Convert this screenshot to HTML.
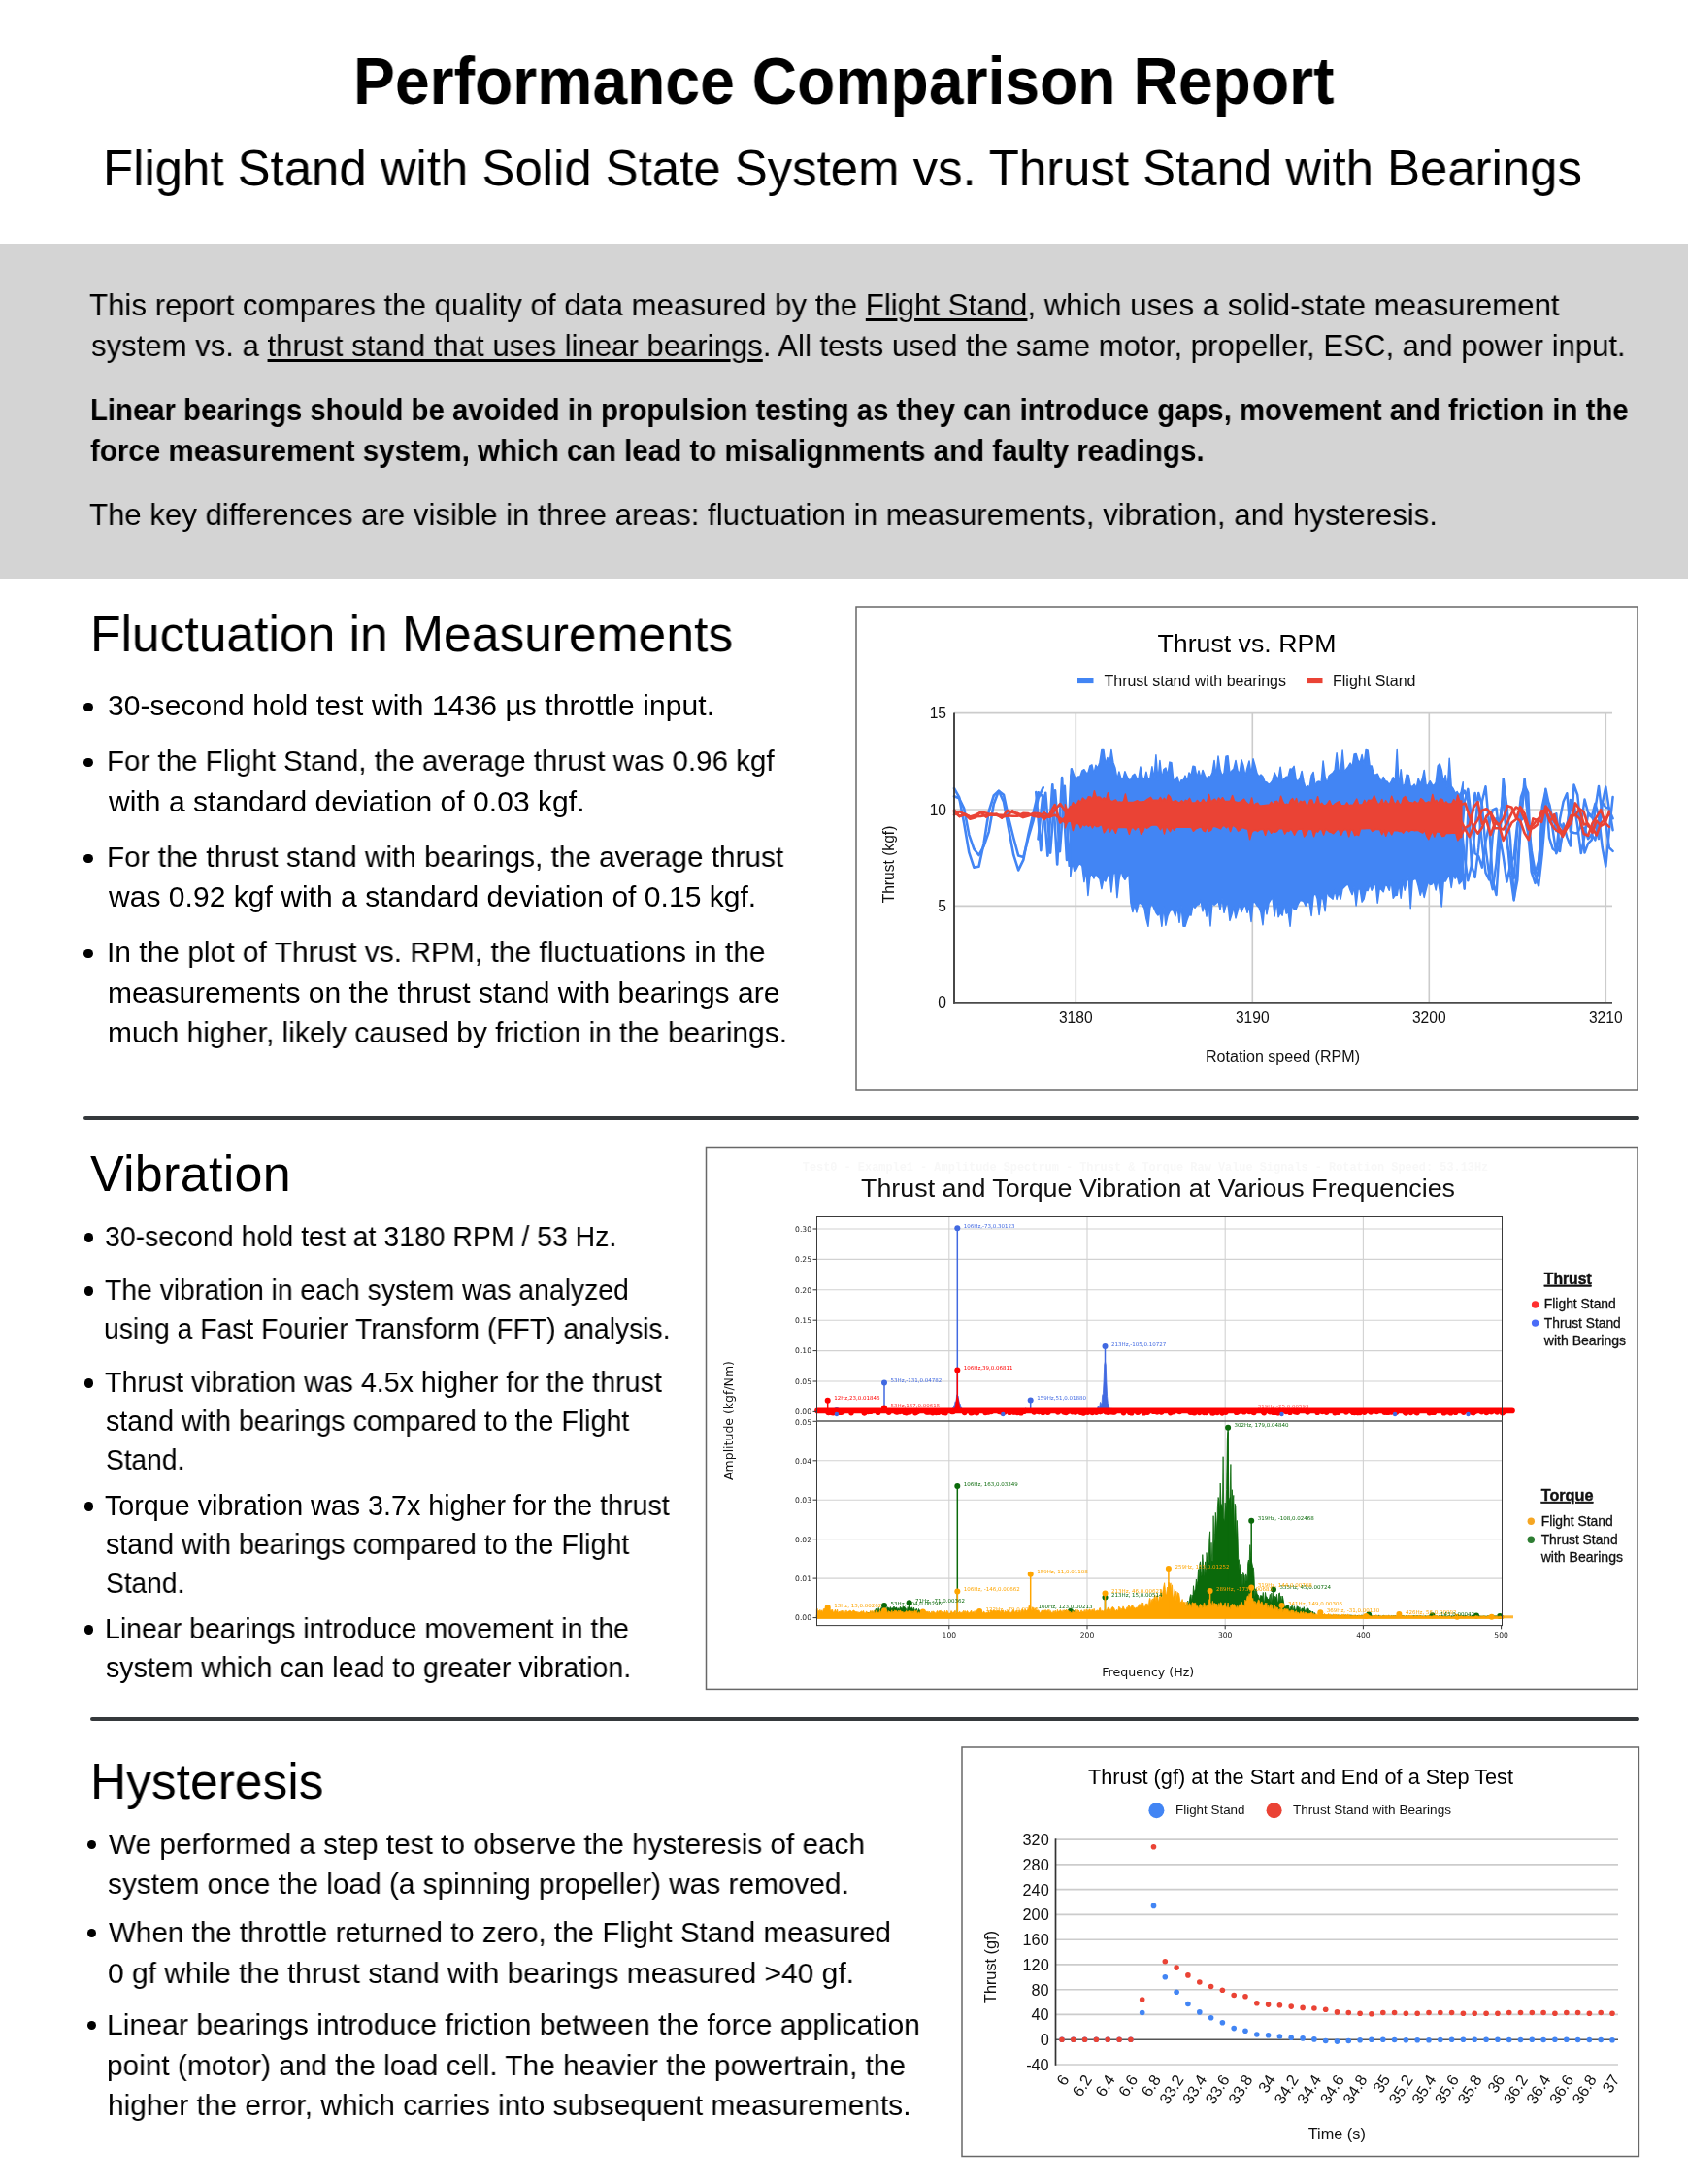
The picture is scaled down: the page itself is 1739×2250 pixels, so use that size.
<!DOCTYPE html>
<html lang="en"><head><meta charset="utf-8"><title>Performance Comparison Report</title>
<style>
html,body{margin:0;padding:0;background:#fff}
body{width:1739px;height:2250px;position:relative;overflow:hidden;font-family:'Liberation Sans', Arial, sans-serif;color:#000}
h1,h2,p,ul,li{margin:0;padding:0;font-weight:400;font-size:inherit;list-style:none}
.ln{position:absolute;white-space:nowrap;line-height:1;display:block;transform-origin:0 50%;will-change:transform}
.band{position:absolute;left:0;top:251px;width:1739px;height:346px;background:#d4d4d4}
.rule{position:absolute;height:4.2px;border-radius:2.1px;background:#35393c}
.dot{position:absolute;width:8.4px;height:8.4px;border-radius:50%;background:#000}
.chart{position:absolute;overflow:visible;will-change:transform}
u{text-decoration-thickness:2.6px;text-underline-offset:3px}
</style></head>
<body>
<header>
<h1><span class="ln" style="left:364.3px;top:50px;font-size:68.5px;font-weight:700;transform:scaleX(0.9380);">Performance Comparison Report</span></h1>
<p><span class="ln" style="left:106.1px;top:148px;font-size:51.5px;transform:scaleX(0.9883);">Flight Stand with Solid State System vs. Thrust Stand with Bearings</span></p>
</header>
<section class="intro"><div class="band"></div>
<p><span class="ln" style="left:92.4px;top:299px;font-size:31.8px;transform:scaleX(0.9816);">This report compares the quality of data measured by the <u>Flight Stand</u>, which uses a solid-state measurement</span>
<span class="ln" style="left:93.6px;top:341px;font-size:31.8px;transform:scaleX(0.9785);">system vs. a <u>thrust stand that uses linear bearings</u>. All tests used the same motor, propeller, ESC, and power input.</span></p>
<p><span class="ln" style="left:92.6px;top:407px;font-size:31.6px;font-weight:700;transform:scaleX(0.9277);">Linear bearings should be avoided in propulsion testing as they can introduce gaps, movement and friction in the</span>
<span class="ln" style="left:93.4px;top:449px;font-size:31.6px;font-weight:700;transform:scaleX(0.9351);">force measurement system, which can lead to misalignments and faulty readings.</span></p>
<p><span class="ln" style="left:92.4px;top:515px;font-size:31.8px;transform:scaleX(0.9803);">The key differences are visible in three areas: fluctuation in measurements, vibration, and hysteresis.</span></p>
</section>
<section>
<h2><span class="ln" style="left:93.0px;top:627px;font-size:52px;transform:scaleX(0.9917);">Fluctuation in Measurements</span></h2>
<ul>
<li><i class="dot" style="left:86.4px;top:723.6px;width:9.2px;height:9.2px"></i>
<span class="ln" style="left:110.6px;top:712px;font-size:30.0px;letter-spacing:0.085px;">30-second hold test with 1436 µs throttle input.</span>
</li>
<li><i class="dot" style="left:86.4px;top:780.6px;width:9.2px;height:9.2px"></i>
<span class="ln" style="left:110.2px;top:769px;font-size:30.0px;transform:scaleX(0.9839);">For the Flight Stand, the average thrust was 0.96 kgf</span>
<span class="ln" style="left:111.8px;top:811px;font-size:30.0px;letter-spacing:0.051px;">with a standard deviation of 0.03 kgf.</span>
</li>
<li><i class="dot" style="left:86.4px;top:879.6px;width:9.2px;height:9.2px"></i>
<span class="ln" style="left:110.2px;top:868px;font-size:30.0px;transform:scaleX(0.9905);">For the thrust stand with bearings, the average thrust</span>
<span class="ln" style="left:111.8px;top:909px;font-size:30.0px;letter-spacing:0.036px;">was 0.92 kgf with a standard deviation of 0.15 kgf.</span>
</li>
<li><i class="dot" style="left:86.4px;top:977.8px;width:9.2px;height:9.2px"></i>
<span class="ln" style="left:109.6px;top:966px;font-size:30.0px;transform:scaleX(0.9982);">In the plot of Thrust vs. RPM, the fluctuations in the</span>
<span class="ln" style="left:110.6px;top:1008px;font-size:30.0px;letter-spacing:0.006px;">measurements on the thrust stand with bearings are</span>
<span class="ln" style="left:110.6px;top:1049px;font-size:30.0px;transform:scaleX(0.9971);">much higher, likely caused by friction in the bearings.</span>
</li>
</ul>
<figure style="margin:0"><svg class="chart" style="left:876px;top:619px" width="819" height="512" viewBox="876 619 819 512" font-family="'Liberation Sans',Arial,sans-serif">
<rect x="882" y="625" width="805" height="498" fill="#fff" stroke="#686868" stroke-width="1.5"/>
<line x1="983.0" x2="1661.0" y1="933.4" y2="933.4" stroke="#ccc" stroke-width="1.6"/>
<line x1="983.0" x2="1661.0" y1="834.0" y2="834.0" stroke="#ccc" stroke-width="1.6"/>
<line x1="983.0" x2="1661.0" y1="734.6" y2="734.6" stroke="#ccc" stroke-width="1.6"/>
<line x1="1108.3" x2="1108.3" y1="734.6" y2="1032.8" stroke="#ccc" stroke-width="1.6"/>
<line x1="1290.3" x2="1290.3" y1="734.6" y2="1032.8" stroke="#ccc" stroke-width="1.6"/>
<line x1="1472.3" x2="1472.3" y1="734.6" y2="1032.8" stroke="#ccc" stroke-width="1.6"/>
<line x1="1654.3" x2="1654.3" y1="734.6" y2="1032.8" stroke="#ccc" stroke-width="1.6"/>
<path d="M983.0 812.1 L988.1 821.2 L993.2 848.3 L998.3 878.2 L1003.4 893.6 L1008.5 892.8 L1013.6 868.7 L1018.7 836.0 L1023.8 819.5 L1028.9 814.8 L1034.0 825.9 L1039.1 853.6 L1044.2 880.7 L1049.2 896.4 L1054.3 885.9 L1059.4 859.7 L1064.5 837.8 L1069.6 816.2 L1074.7 820.8" fill="none" stroke="#4285f4" stroke-width="2.6" stroke-linejoin="round" stroke-linecap="round"/>
<path d="M983.0 820.3 L988.1 822.2 L993.2 832.9 L998.3 859.8 L1003.4 874.6 L1008.5 881.0 L1013.6 871.6 L1018.7 857.1 L1023.8 828.3 L1028.9 814.8 L1034.0 818.7 L1039.1 842.6 L1044.2 863.0 L1049.2 881.6 L1054.3 883.0 L1059.4 862.9 L1064.5 845.6 L1069.6 822.4 L1074.7 811.3" fill="none" stroke="#4285f4" stroke-width="2.6" stroke-linejoin="round" stroke-linecap="round"/>
<path d="M1067.3 816.1 L1072.3 876.1 L1077.2 816.7 L1082.1 878.6 L1087.0 814.2 L1091.9 877.2 L1096.8 809.8 L1101.7 891.8 L1106.7 801.2" fill="none" stroke="#4285f4" stroke-width="2.6" stroke-linejoin="round" stroke-linecap="round"/>
<path d="M1069.5 864.4 L1074.4 819.1 L1079.4 881.7 L1084.3 808.2 L1089.2 890.5 L1094.1 801.1 L1099.0 885.9 L1103.9 792.2" fill="none" stroke="#4285f4" stroke-width="2.6" stroke-linejoin="round" stroke-linecap="round"/>
<path d="M1102.8 799.6 L1104.8 793.6 L1106.8 799.5 L1108.8 802.1 L1110.8 799.9 L1112.9 799.7 L1114.9 793.8 L1116.9 792.7 L1118.9 796.1 L1120.9 796.3 L1122.9 788.9 L1124.9 787.9 L1126.9 797.1 L1128.9 788.3 L1130.9 791.3 L1132.9 785.4 L1134.9 772.4 L1136.9 772.4 L1138.9 787.2 L1140.9 780.4 L1142.9 787.4 L1144.9 772.4 L1146.9 785.4 L1148.9 790.9 L1150.9 802.6 L1152.9 795.0 L1154.9 801.9 L1156.9 802.9 L1158.9 794.8 L1160.9 799.7 L1162.9 803.6 L1164.9 803.0 L1166.9 798.9 L1168.9 797.4 L1170.9 801.6 L1172.9 802.9 L1174.9 789.9 L1176.9 800.8 L1178.9 803.7 L1180.9 795.3 L1182.9 803.6 L1184.9 801.4 L1186.9 789.8 L1188.9 802.6 L1190.9 777.8 L1192.9 804.1 L1194.9 783.5 L1196.9 802.2 L1198.9 792.5 L1200.9 791.0 L1202.9 798.9 L1204.9 785.1 L1206.9 785.7 L1208.9 804.6 L1210.9 802.7 L1213.0 800.1 L1215.0 808.3 L1217.0 803.7 L1219.0 804.2 L1221.0 799.1 L1223.0 805.4 L1225.0 796.0 L1227.0 799.1 L1229.0 789.2 L1231.0 789.8 L1233.0 801.0 L1235.0 794.0 L1237.0 801.7 L1239.0 793.4 L1241.0 798.2 L1243.0 802.5 L1245.0 799.8 L1247.0 800.5 L1249.0 796.0 L1251.0 783.4 L1253.0 799.5 L1255.0 779.1 L1257.0 792.6 L1259.0 799.1 L1261.0 796.3 L1263.0 779.3 L1265.0 778.7 L1267.0 797.0 L1269.0 794.0 L1271.0 792.0 L1273.0 783.4 L1275.0 793.8 L1277.0 797.1 L1279.0 782.8 L1281.0 788.8 L1283.0 799.7 L1285.0 790.9 L1287.0 783.9 L1289.0 797.9 L1291.0 781.8 L1293.0 788.6 L1295.0 796.6 L1297.0 800.1 L1299.0 798.1 L1301.0 800.1 L1303.0 805.6 L1305.0 805.9 L1307.0 808.3 L1309.0 806.9 L1311.0 804.1 L1313.1 796.0 L1315.1 800.2 L1317.1 802.6 L1319.1 790.2 L1321.1 804.6 L1323.1 802.1 L1325.1 800.2 L1327.1 800.2 L1329.1 791.9 L1331.1 792.5 L1333.1 789.3 L1335.1 802.9 L1337.1 805.3 L1339.1 801.6 L1341.1 794.5 L1343.1 805.5 L1345.1 811.9 L1347.1 809.6 L1349.1 811.0 L1351.1 798.8 L1353.1 795.5 L1355.1 809.7 L1357.1 805.4 L1359.1 805.1 L1361.1 806.3 L1363.1 783.9 L1365.1 800.3 L1367.1 807.3 L1369.1 799.3 L1371.1 797.5 L1373.1 796.0 L1375.1 793.3 L1377.1 775.8 L1379.1 793.1 L1381.1 794.4 L1383.1 773.1 L1385.1 795.2 L1387.1 792.3 L1389.1 789.7 L1391.1 786.1 L1393.1 790.1 L1395.1 776.9 L1397.1 776.5 L1399.1 783.3 L1401.1 785.5 L1403.1 777.6 L1405.1 787.8 L1407.1 772.4 L1409.1 772.9 L1411.1 788.9 L1413.2 789.0 L1415.2 797.7 L1417.2 798.2 L1419.2 797.2 L1421.2 801.6 L1423.2 805.6 L1425.2 800.5 L1427.2 804.6 L1429.2 805.3 L1431.2 808.3 L1433.2 805.5 L1435.2 800.7 L1437.2 805.9 L1439.2 772.4 L1441.2 811.0 L1443.2 792.7 L1445.2 810.4 L1447.2 807.9 L1449.2 797.9 L1451.2 798.6 L1453.2 809.8 L1455.2 810.4 L1457.2 808.0 L1459.2 811.8 L1461.2 801.9 L1463.2 807.7 L1465.2 802.8 L1467.2 793.4 L1469.2 809.7 L1471.2 808.6 L1473.2 804.7 L1475.2 808.0 L1477.2 809.5 L1479.2 806.2 L1481.2 789.0 L1483.2 786.7 L1485.2 793.1 L1487.2 805.9 L1489.2 798.6 L1491.2 812.6 L1493.2 781.3 L1495.2 810.0 L1497.2 812.7 L1499.2 817.0 L1501.2 815.5 L1503.2 819.1 L1505.2 816.0 L1507.2 805.8 L1507.2 905.6 L1505.2 908.5 L1503.2 910.7 L1501.2 902.2 L1499.2 905.1 L1497.2 901.3 L1495.2 914.5 L1493.2 901.7 L1491.2 904.2 L1489.2 908.1 L1487.2 908.1 L1485.2 933.9 L1483.2 917.7 L1481.2 905.7 L1479.2 916.9 L1477.2 908.3 L1475.2 910.9 L1473.2 911.4 L1471.2 908.8 L1469.2 916.3 L1467.2 924.4 L1465.2 915.5 L1463.2 922.2 L1461.2 913.0 L1459.2 905.9 L1457.2 905.4 L1455.2 907.1 L1453.2 935.8 L1451.2 903.8 L1449.2 908.1 L1447.2 917.2 L1445.2 907.2 L1443.2 925.2 L1441.2 910.2 L1439.2 922.3 L1437.2 922.4 L1435.2 925.2 L1433.2 907.3 L1431.2 917.3 L1429.2 912.7 L1427.2 911.5 L1425.2 918.7 L1423.2 916.4 L1421.2 915.5 L1419.2 930.2 L1417.2 910.1 L1415.2 912.6 L1413.2 917.2 L1411.1 911.1 L1409.1 917.6 L1407.1 917.0 L1405.1 926.0 L1403.1 929.1 L1401.1 915.8 L1399.1 916.3 L1397.1 932.9 L1395.1 913.6 L1393.1 921.6 L1391.1 917.2 L1389.1 911.2 L1387.1 911.8 L1385.1 913.8 L1383.1 915.7 L1381.1 926.0 L1379.1 918.9 L1377.1 926.4 L1375.1 916.6 L1373.1 926.2 L1371.1 924.5 L1369.1 923.1 L1367.1 917.7 L1365.1 938.7 L1363.1 926.6 L1361.1 924.4 L1359.1 942.5 L1357.1 925.7 L1355.1 919.6 L1353.1 923.2 L1351.1 943.4 L1349.1 930.1 L1347.1 929.0 L1345.1 933.3 L1343.1 928.8 L1341.1 927.5 L1339.1 927.9 L1337.1 931.7 L1335.1 937.1 L1333.1 936.6 L1331.1 932.3 L1329.1 954.3 L1327.1 939.4 L1325.1 941.1 L1323.1 930.8 L1321.1 943.2 L1319.1 940.2 L1317.1 944.8 L1315.1 928.5 L1313.1 944.0 L1311.0 924.6 L1309.0 927.0 L1307.0 930.5 L1305.0 941.8 L1303.0 930.0 L1301.0 952.8 L1299.0 940.3 L1297.0 934.7 L1295.0 933.0 L1293.0 929.3 L1291.0 929.8 L1289.0 949.5 L1287.0 933.3 L1285.0 940.2 L1283.0 932.3 L1281.0 934.4 L1279.0 939.6 L1277.0 931.3 L1275.0 938.7 L1273.0 945.9 L1271.0 934.5 L1269.0 942.0 L1267.0 948.4 L1265.0 931.1 L1263.0 932.4 L1261.0 940.2 L1259.0 925.3 L1257.0 937.1 L1255.0 928.1 L1253.0 930.6 L1251.0 932.3 L1249.0 929.5 L1247.0 953.9 L1245.0 928.9 L1243.0 944.1 L1241.0 931.7 L1239.0 938.8 L1237.0 927.3 L1235.0 931.8 L1233.0 932.3 L1231.0 935.2 L1229.0 932.3 L1227.0 943.1 L1225.0 942.6 L1223.0 947.7 L1221.0 954.3 L1219.0 954.3 L1217.0 932.7 L1215.0 950.3 L1213.0 934.2 L1210.9 943.8 L1208.9 938.2 L1206.9 937.3 L1204.9 939.3 L1202.9 943.8 L1200.9 953.2 L1198.9 933.9 L1196.9 954.3 L1194.9 940.5 L1192.9 943.0 L1190.9 940.2 L1188.9 936.0 L1186.9 930.8 L1184.9 934.7 L1182.9 954.3 L1180.9 946.6 L1178.9 935.4 L1176.9 932.4 L1174.9 930.2 L1172.9 931.1 L1170.9 939.9 L1168.9 932.1 L1166.9 939.5 L1164.9 930.2 L1162.9 899.9 L1160.9 902.9 L1158.9 906.3 L1156.9 903.4 L1154.9 896.3 L1152.9 906.6 L1150.9 924.6 L1148.9 898.1 L1146.9 900.6 L1144.9 918.9 L1142.9 898.3 L1140.9 902.3 L1138.9 908.0 L1136.9 905.7 L1134.9 915.6 L1132.9 905.4 L1130.9 903.4 L1128.9 899.9 L1126.9 904.9 L1124.9 900.1 L1122.9 902.8 L1120.9 922.4 L1118.9 895.8 L1116.9 908.6 L1114.9 892.3 L1112.9 889.7 L1110.8 891.5 L1108.8 895.7 L1106.8 897.2 L1104.8 888.2 L1102.8 903.3 L1102.8 799.6" fill="#4285f4" stroke="#4285f4" stroke-width="1.5" stroke-linejoin="round" stroke-linecap="round"/>
<path d="M1505.1 821.5 L1508.7 814.6 L1512.3 825.1 L1516.0 891.2 L1519.6 903.9 L1523.3 873.2 L1526.9 825.5 L1530.5 810.3 L1534.2 851.2 L1537.8 906.8 L1541.5 922.0 L1545.1 868.1 L1548.7 802.2 L1552.4 831.5 L1556.0 865.2 L1559.7 925.7 L1563.3 906.7 L1566.9 843.7 L1570.6 808.9 L1574.2 816.8 L1577.9 898.9 L1581.5 909.9 L1585.1 896.7 L1588.8 831.2 L1592.4 814.6 L1596.1 863.2 L1599.7 874.6 L1603.3 877.2 L1607.0 844.1 L1610.6 825.7 L1614.3 817.2 L1617.9 856.6 L1621.5 858.0 L1625.2 858.4 L1628.8 849.8 L1632.5 823.6 L1636.1 837.2 L1639.7 840.7 L1643.4 848.9 L1647.0 864.1 L1650.7 827.7 L1654.3 810.6 L1657.9 834.3 L1661.6 843.3" fill="none" stroke="#4285f4" stroke-width="2.5" stroke-linejoin="round" stroke-linecap="round"/>
<path d="M1505.1 847.0 L1508.7 881.4 L1512.3 907.3 L1516.0 891.0 L1519.6 853.3 L1523.3 817.0 L1526.9 830.0 L1530.5 873.6 L1534.2 901.2 L1537.8 916.2 L1541.5 889.1 L1545.1 844.8 L1548.7 821.3 L1552.4 861.2 L1556.0 901.2 L1559.7 927.4 L1563.3 891.1 L1566.9 844.3 L1570.6 802.2 L1574.2 842.8 L1577.9 876.9 L1581.5 897.7 L1585.1 900.1 L1588.8 863.9 L1592.4 812.7 L1596.1 830.2 L1599.7 855.0 L1603.3 879.2 L1607.0 870.9 L1610.6 857.2 L1614.3 850.0 L1617.9 833.3 L1621.5 827.8 L1625.2 850.8 L1628.8 879.1 L1632.5 860.9 L1636.1 838.5 L1639.7 841.9 L1643.4 827.8 L1647.0 841.1 L1650.7 873.1 L1654.3 892.5 L1657.9 855.7 L1661.6 821.0" fill="none" stroke="#4285f4" stroke-width="2.5" stroke-linejoin="round" stroke-linecap="round"/>
<path d="M1505.1 885.1 L1508.7 915.7 L1512.3 838.6 L1516.0 845.9 L1519.6 816.9 L1523.3 833.7 L1526.9 868.9 L1530.5 898.9 L1534.2 906.5 L1537.8 860.1 L1541.5 843.0 L1545.1 851.2 L1548.7 816.3 L1552.4 870.1 L1556.0 881.8 L1559.7 904.9 L1563.3 853.4 L1566.9 821.2 L1570.6 810.5 L1574.2 843.2 L1577.9 887.5 L1581.5 901.1 L1585.1 912.3 L1588.8 879.8 L1592.4 837.2 L1596.1 840.9 L1599.7 840.0 L1603.3 856.0 L1607.0 848.5 L1610.6 854.0 L1614.3 853.4 L1617.9 823.9 L1621.5 836.1 L1625.2 839.1 L1628.8 843.5 L1632.5 878.5 L1636.1 868.9 L1639.7 865.4 L1643.4 833.5 L1647.0 810.0 L1650.7 840.5 L1654.3 847.9 L1657.9 873.4 L1661.6 876.8" fill="none" stroke="#4285f4" stroke-width="2.5" stroke-linejoin="round" stroke-linecap="round"/>
<path d="M1505.1 871.3 L1508.7 825.8 L1512.3 812.9 L1516.0 844.9 L1519.6 879.1 L1523.3 882.1 L1526.9 893.6 L1530.5 866.8 L1534.2 849.5 L1537.8 834.4 L1541.5 832.7 L1545.1 861.8 L1548.7 882.3 L1552.4 908.5 L1556.0 891.5 L1559.7 882.3 L1563.3 847.9 L1566.9 845.2 L1570.6 841.6 L1574.2 858.4 L1577.9 897.9 L1581.5 900.1 L1585.1 887.2 L1588.8 848.8 L1592.4 823.4 L1596.1 828.3 L1599.7 845.1 L1603.3 838.2 L1607.0 877.1 L1610.6 848.6 L1614.3 862.4 L1617.9 871.5 L1621.5 808.5 L1625.2 818.7 L1628.8 853.0 L1632.5 852.8 L1636.1 864.2 L1639.7 859.6 L1643.4 865.4 L1647.0 845.2 L1650.7 826.8 L1654.3 831.8 L1657.9 832.5 L1661.6 855.2" fill="none" stroke="#4285f4" stroke-width="2.5" stroke-linejoin="round" stroke-linecap="round"/>
<path d="M983.0 834.4 L988.5 841.1 L993.9 839.0 L999.4 843.8 L1004.8 842.3 L1010.3 836.7 L1015.8 841.6 L1021.2 838.4 L1026.7 839.7 L1032.1 841.9 L1037.6 840.3 L1043.1 840.7 L1048.5 840.6 L1054.0 837.9 L1059.4 838.1 L1064.9 840.8 L1070.4 841.6 L1075.8 837.2 L1081.3 841.7 L1086.7 834.5 L1092.2 828.1 L1097.7 835.9 L1103.1 835.7" fill="none" stroke="#ea4335" stroke-width="2.6" stroke-linejoin="round" stroke-linecap="round"/>
<path d="M983.0 836.8 L988.5 841.0 L993.9 838.7 L999.4 841.5 L1004.8 841.1 L1010.3 840.9 L1015.8 839.9 L1021.2 839.2 L1026.7 838.6 L1032.1 842.7 L1037.6 835.1 L1043.1 837.0 L1048.5 837.9 L1054.0 840.4 L1059.4 839.8 L1064.9 838.3 L1070.4 838.6 L1075.8 844.0 L1081.3 838.6 L1086.7 829.2 L1092.2 847.5 L1097.7 841.9 L1103.1 831.2" fill="none" stroke="#ea4335" stroke-width="2.6" stroke-linejoin="round" stroke-linecap="round"/>
<path d="M983.0 839.3 L988.5 836.1 L993.9 838.8 L999.4 841.5 L1004.8 839.7 L1010.3 836.8 L1015.8 837.5 L1021.2 839.6 L1026.7 839.5 L1032.1 839.8 L1037.6 840.9 L1043.1 835.2 L1048.5 839.6 L1054.0 842.1 L1059.4 840.6 L1064.9 837.9 L1070.4 838.1 L1075.8 841.0 L1081.3 841.6 L1086.7 839.6 L1092.2 843.0 L1097.7 847.4 L1103.1 834.4" fill="none" stroke="#ea4335" stroke-width="2.6" stroke-linejoin="round" stroke-linecap="round"/>
<path d="M1097.4 828.7 L1099.4 834.2 L1101.4 832.9 L1103.4 831.7 L1105.4 826.7 L1107.4 829.2 L1109.4 828.4 L1111.4 824.5 L1113.4 826.4 L1115.4 822.1 L1117.4 824.0 L1119.4 824.7 L1121.4 820.7 L1123.4 821.0 L1125.4 823.7 L1127.4 814.7 L1129.4 821.5 L1131.4 821.1 L1133.4 821.3 L1135.4 823.9 L1137.4 821.7 L1139.4 823.9 L1141.4 816.8 L1143.4 824.5 L1145.4 825.7 L1147.4 825.0 L1149.4 824.0 L1151.4 826.5 L1153.4 826.0 L1155.4 826.5 L1157.4 825.6 L1159.4 818.0 L1161.4 826.5 L1163.4 826.5 L1165.4 826.5 L1167.5 826.5 L1169.5 825.6 L1171.5 824.7 L1173.5 826.1 L1175.5 825.9 L1177.5 825.7 L1179.5 825.4 L1181.5 823.7 L1183.5 822.7 L1185.5 821.4 L1187.5 824.5 L1189.5 824.3 L1191.5 824.3 L1193.5 824.6 L1195.5 821.5 L1197.5 825.1 L1199.5 822.3 L1201.5 825.7 L1203.5 819.0 L1205.5 821.1 L1207.5 826.5 L1209.5 825.4 L1211.5 824.8 L1213.5 826.4 L1215.5 826.9 L1217.5 824.9 L1219.5 826.9 L1221.5 824.3 L1223.5 825.3 L1225.5 822.3 L1227.5 826.9 L1229.5 826.9 L1231.5 826.9 L1233.5 824.5 L1235.5 826.8 L1237.5 826.7 L1239.5 823.5 L1241.5 826.6 L1243.5 826.6 L1245.5 818.4 L1247.5 826.4 L1249.5 824.4 L1251.5 823.2 L1253.5 826.2 L1255.5 822.0 L1257.5 824.6 L1259.5 821.7 L1261.5 825.2 L1263.5 825.6 L1265.5 825.5 L1267.6 825.0 L1269.6 819.6 L1271.6 825.6 L1273.6 826.2 L1275.6 826.7 L1277.6 826.1 L1279.6 824.8 L1281.6 823.2 L1283.6 826.4 L1285.6 828.1 L1287.6 829.0 L1289.6 821.9 L1291.6 830.3 L1293.6 827.9 L1295.6 827.3 L1297.6 830.1 L1299.6 829.9 L1301.6 829.7 L1303.6 829.5 L1305.6 829.3 L1307.6 829.1 L1309.6 826.2 L1311.6 828.9 L1313.6 825.7 L1315.6 825.3 L1317.6 829.0 L1319.6 820.2 L1321.6 825.9 L1323.6 829.2 L1325.6 828.2 L1327.6 829.3 L1329.6 824.6 L1331.6 822.6 L1333.6 826.7 L1335.6 822.6 L1337.6 829.5 L1339.6 825.2 L1341.6 826.3 L1343.6 825.1 L1345.6 829.7 L1347.6 829.7 L1349.6 824.3 L1351.6 824.1 L1353.6 829.8 L1355.6 827.1 L1357.6 820.7 L1359.6 829.4 L1361.6 827.2 L1363.6 829.7 L1365.6 829.7 L1367.7 827.7 L1369.7 824.8 L1371.7 829.7 L1373.7 829.7 L1375.7 827.8 L1377.7 826.7 L1379.7 825.7 L1381.7 829.8 L1383.7 829.8 L1385.7 829.8 L1387.7 826.9 L1389.7 829.9 L1391.7 829.3 L1393.7 829.6 L1395.7 826.6 L1397.7 823.1 L1399.7 829.1 L1401.7 828.9 L1403.7 828.7 L1405.7 824.4 L1407.7 828.3 L1409.7 824.3 L1411.7 824.4 L1413.7 824.0 L1415.7 819.8 L1417.7 824.5 L1419.7 828.7 L1421.7 827.7 L1423.7 823.5 L1425.7 829.2 L1427.7 824.8 L1429.7 828.1 L1431.7 828.0 L1433.7 820.2 L1435.7 826.1 L1437.7 828.9 L1439.7 824.5 L1441.7 828.5 L1443.7 828.3 L1445.7 822.0 L1447.7 820.6 L1449.7 824.3 L1451.7 826.7 L1453.7 826.8 L1455.7 827.5 L1457.7 825.6 L1459.7 827.3 L1461.7 827.3 L1463.7 822.7 L1465.7 824.1 L1467.8 827.0 L1469.8 827.0 L1471.8 825.8 L1473.8 827.2 L1475.8 818.4 L1477.8 826.0 L1479.8 824.3 L1481.8 827.7 L1483.8 823.1 L1485.8 823.4 L1487.8 828.0 L1489.8 825.9 L1491.8 828.1 L1493.8 827.9 L1495.8 827.7 L1497.8 823.6 L1499.8 827.3 L1501.8 818.9 L1503.8 825.1 L1505.8 825.0 L1505.8 862.4 L1503.8 863.0 L1501.8 865.8 L1499.8 858.3 L1497.8 858.3 L1495.8 858.3 L1493.8 858.4 L1491.8 858.4 L1489.8 858.3 L1487.8 861.2 L1485.8 861.6 L1483.8 857.4 L1481.8 857.1 L1479.8 856.8 L1477.8 862.1 L1475.8 856.2 L1473.8 859.8 L1471.8 864.7 L1469.8 861.3 L1467.8 855.4 L1465.7 858.1 L1463.7 857.0 L1461.7 855.9 L1459.7 855.3 L1457.7 855.8 L1455.7 855.2 L1453.7 855.2 L1451.7 856.7 L1449.7 855.2 L1447.7 855.2 L1445.7 858.1 L1443.7 856.3 L1441.7 856.6 L1439.7 855.6 L1437.7 855.7 L1435.7 855.7 L1433.7 859.8 L1431.7 855.9 L1429.7 855.9 L1427.7 861.2 L1425.7 855.3 L1423.7 859.6 L1421.7 854.8 L1419.7 854.5 L1417.7 854.2 L1415.7 855.3 L1413.7 856.4 L1411.7 853.4 L1409.7 853.6 L1407.7 853.4 L1405.7 853.7 L1403.7 853.6 L1401.7 853.7 L1399.7 860.5 L1397.7 859.6 L1395.7 860.6 L1393.7 855.5 L1391.7 854.4 L1389.7 861.9 L1387.7 855.1 L1385.7 854.5 L1383.7 855.5 L1381.7 860.1 L1379.7 855.1 L1377.7 854.4 L1375.7 856.5 L1373.7 858.8 L1371.7 857.5 L1369.7 857.1 L1367.7 855.3 L1365.6 854.3 L1363.6 860.0 L1361.6 854.4 L1359.6 854.4 L1357.6 857.1 L1355.6 855.9 L1353.6 861.8 L1351.6 854.4 L1349.6 854.4 L1347.6 854.4 L1345.6 859.4 L1343.6 861.9 L1341.6 854.3 L1339.6 854.2 L1337.6 854.2 L1335.6 856.1 L1333.6 860.1 L1331.6 855.9 L1329.6 854.0 L1327.6 856.4 L1325.6 855.8 L1323.6 859.0 L1321.6 853.8 L1319.6 853.8 L1317.6 853.7 L1315.6 856.4 L1313.6 857.3 L1311.6 856.4 L1309.6 858.2 L1307.6 854.9 L1305.6 854.0 L1303.6 860.4 L1301.6 854.4 L1299.6 854.6 L1297.6 854.8 L1295.6 856.4 L1293.6 855.2 L1291.6 855.4 L1289.6 857.4 L1287.6 864.7 L1285.6 854.2 L1283.6 853.7 L1281.6 853.1 L1279.6 852.6 L1277.6 854.8 L1275.6 856.1 L1273.6 852.6 L1271.6 851.1 L1269.6 850.2 L1267.6 856.5 L1265.5 850.4 L1263.5 852.8 L1261.5 850.7 L1259.5 850.8 L1257.5 853.9 L1255.5 852.9 L1253.5 852.1 L1251.5 851.3 L1249.5 851.4 L1247.5 855.3 L1245.5 856.2 L1243.5 851.7 L1241.5 856.6 L1239.5 855.5 L1237.5 851.9 L1235.5 852.3 L1233.5 853.2 L1231.5 854.2 L1229.5 856.3 L1227.5 852.4 L1225.5 852.2 L1223.5 852.2 L1221.5 852.2 L1219.5 852.2 L1217.5 852.2 L1215.5 852.2 L1213.5 852.2 L1211.5 852.2 L1209.5 855.1 L1207.5 851.9 L1205.5 856.6 L1203.5 853.6 L1201.5 851.2 L1199.5 858.9 L1197.5 850.7 L1195.5 854.6 L1193.5 851.4 L1191.5 850.0 L1189.5 849.9 L1187.5 850.1 L1185.5 850.4 L1183.5 852.1 L1181.5 853.3 L1179.5 851.2 L1177.5 856.7 L1175.5 859.1 L1173.5 851.9 L1171.5 852.2 L1169.5 854.9 L1167.5 852.4 L1165.4 852.8 L1163.4 859.3 L1161.4 852.7 L1159.4 852.4 L1157.4 852.5 L1155.4 852.5 L1153.4 852.5 L1151.4 852.5 L1149.4 858.2 L1147.4 854.2 L1145.4 853.1 L1143.4 856.9 L1141.4 851.1 L1139.4 854.5 L1137.4 857.8 L1135.4 850.2 L1133.4 849.8 L1131.4 851.4 L1129.4 851.4 L1127.4 849.5 L1125.4 853.0 L1123.4 849.5 L1121.4 851.2 L1119.4 849.2 L1117.4 850.7 L1115.4 849.0 L1113.4 853.0 L1111.4 848.8 L1109.4 848.6 L1107.4 848.6 L1105.4 855.5 L1103.4 846.2 L1101.4 845.9 L1099.4 847.5 L1097.4 852.8 L1097.4 828.7" fill="#ea4335" stroke="#ea4335" stroke-width="1.5" stroke-linejoin="round" stroke-linecap="round"/>
<path d="M1505.1 829.1 L1509.4 827.5 L1513.8 840.6 L1518.2 851.8 L1522.5 858.6 L1526.9 852.8 L1531.3 841.0 L1535.6 836.8 L1540.0 845.2 L1544.4 850.0 L1548.7 865.8 L1553.1 856.8 L1557.5 847.5 L1561.8 844.2 L1566.2 831.2 L1570.6 838.0 L1574.9 852.3 L1579.3 850.2 L1583.7 844.0 L1588.1 846.8 L1592.4 830.5 L1596.8 836.1 L1601.2 846.0 L1605.5 851.7 L1609.9 858.3 L1614.3 849.1 L1618.6 841.1 L1623.0 839.2 L1627.4 843.5 L1631.7 859.0 L1636.1 860.8 L1640.5 848.3 L1644.8 841.6 L1649.2 834.2 L1653.6 847.6 L1657.9 851.9" fill="none" stroke="#ea4335" stroke-width="2.6" stroke-linejoin="round" stroke-linecap="round"/>
<path d="M1505.1 845.7 L1509.4 854.4 L1513.8 862.2 L1518.2 851.1 L1522.5 844.6 L1526.9 834.8 L1531.3 833.2 L1535.6 837.3 L1540.0 853.3 L1544.4 853.2 L1548.7 854.5 L1553.1 846.9 L1557.5 837.6 L1561.8 831.5 L1566.2 833.8 L1570.6 843.8 L1574.9 854.4 L1579.3 853.1 L1583.7 849.7 L1588.1 835.3 L1592.4 835.2 L1596.8 846.1 L1601.2 839.2 L1605.5 853.1 L1609.9 861.8 L1614.3 853.2 L1618.6 847.4 L1623.0 827.4 L1627.4 834.0 L1631.7 849.4 L1636.1 848.8 L1640.5 857.8 L1644.8 845.5 L1649.2 850.8 L1653.6 848.3 L1657.9 835.7" fill="none" stroke="#ea4335" stroke-width="2.6" stroke-linejoin="round" stroke-linecap="round"/>
<path d="M1505.1 860.2 L1509.4 852.9 L1513.8 850.1 L1518.2 831.6 L1522.5 826.0 L1526.9 848.7 L1531.3 845.2 L1535.6 860.1 L1540.0 847.9 L1544.4 849.9 L1548.7 843.1 L1553.1 830.2 L1557.5 831.8 L1561.8 842.4 L1566.2 845.7 L1570.6 858.3 L1574.9 865.2 L1579.3 843.4 L1583.7 845.2 L1588.1 839.3 L1592.4 833.4 L1596.8 846.3 L1601.2 853.5 L1605.5 856.7 L1609.9 858.9 L1614.3 852.3 L1618.6 840.0 L1623.0 839.9 L1627.4 833.3 L1631.7 836.4 L1636.1 851.2 L1640.5 852.5 L1644.8 860.3 L1649.2 848.3 L1653.6 843.9 L1657.9 838.8" fill="none" stroke="#ea4335" stroke-width="2.6" stroke-linejoin="round" stroke-linecap="round"/>
<line x1="983.0" x2="983.0" y1="734.6" y2="1033.8" stroke="#333" stroke-width="1.8"/>
<line x1="982.1" x2="1661.0" y1="1032.8" y2="1032.8" stroke="#4a4a4a" stroke-width="1.7"/>
<text x="1284.5" y="671.5" font-size="26" text-anchor="middle" fill="#000" textLength="184" lengthAdjust="spacingAndGlyphs">Thrust vs. RPM</text>
<rect x="1110" y="698.5" width="16.5" height="5.6" fill="#4285f4"/>
<text x="1137.5" y="707" font-size="15.6" fill="#111" textLength="187.5" lengthAdjust="spacingAndGlyphs">Thrust stand with bearings</text>
<rect x="1346" y="698.5" width="16.5" height="5.6" fill="#ea4335"/>
<text x="1373" y="707" font-size="15.6" fill="#111" textLength="85.5" lengthAdjust="spacingAndGlyphs">Flight Stand</text>
<text x="975" y="1038.4" font-size="15.6" text-anchor="end" fill="#111">0</text>
<text x="975" y="939.0" font-size="15.6" text-anchor="end" fill="#111">5</text>
<text x="975" y="839.6" font-size="15.6" text-anchor="end" fill="#111">10</text>
<text x="975" y="740.2" font-size="15.6" text-anchor="end" fill="#111">15</text>
<text x="1108.3" y="1053.8" font-size="15.6" text-anchor="middle" fill="#111">3180</text>
<text x="1290.3" y="1053.8" font-size="15.6" text-anchor="middle" fill="#111">3190</text>
<text x="1472.3" y="1053.8" font-size="15.6" text-anchor="middle" fill="#111">3200</text>
<text x="1654.3" y="1053.8" font-size="15.6" text-anchor="middle" fill="#111">3210</text>
<text x="1321.5" y="1094" font-size="15.6" text-anchor="middle" fill="#111" textLength="159" lengthAdjust="spacingAndGlyphs">Rotation speed (RPM)</text>
<text transform="translate(920.5 890.5) rotate(-90)" font-size="15.6" text-anchor="middle" fill="#111">Thrust (kgf)</text>
</svg></figure>
</section>
<section>
<h2><span class="ln" style="left:93.0px;top:1183px;font-size:52px;letter-spacing:0.288px;">Vibration</span></h2>
<ul>
<li><i class="dot" style="left:87.0px;top:1270.4px;width:9.2px;height:9.2px"></i>
<span class="ln" style="left:107.8px;top:1260px;font-size:28.7px;transform:scaleX(0.9900);">30-second hold test at 3180 RPM / 53 Hz.</span>
</li>
<li><i class="dot" style="left:87.0px;top:1325.4px;width:9.2px;height:9.2px"></i>
<span class="ln" style="left:107.8px;top:1315px;font-size:28.7px;transform:scaleX(0.9869);">The vibration in each system was analyzed</span>
<span class="ln" style="left:107.0px;top:1355px;font-size:28.7px;transform:scaleX(0.9867);">using a Fast Fourier Transform (FFT) analysis.</span>
</li>
<li><i class="dot" style="left:87.0px;top:1420.4px;width:9.2px;height:9.2px"></i>
<span class="ln" style="left:107.8px;top:1410px;font-size:28.7px;transform:scaleX(0.9970);">Thrust vibration was 4.5x higher for the thrust</span>
<span class="ln" style="left:108.6px;top:1450px;font-size:28.7px;transform:scaleX(0.9976);">stand with bearings compared to the Flight</span>
<span class="ln" style="left:108.8px;top:1490px;font-size:28.7px;transform:scaleX(0.9797);">Stand.</span>
</li>
<li><i class="dot" style="left:87.0px;top:1547.4px;width:9.2px;height:9.2px"></i>
<span class="ln" style="left:107.8px;top:1537px;font-size:28.7px;transform:scaleX(0.9995);">Torque vibration was 3.7x higher for the thrust</span>
<span class="ln" style="left:108.6px;top:1577px;font-size:28.7px;transform:scaleX(0.9976);">stand with bearings compared to the Flight</span>
<span class="ln" style="left:108.8px;top:1617px;font-size:28.7px;transform:scaleX(0.9797);">Stand.</span>
</li>
<li><i class="dot" style="left:87.0px;top:1674.4px;width:9.2px;height:9.2px"></i>
<span class="ln" style="left:108.0px;top:1664px;font-size:28.7px;transform:scaleX(0.9930);">Linear bearings introduce movement in the</span>
<span class="ln" style="left:108.6px;top:1704px;font-size:28.7px;transform:scaleX(0.9954);">system which can lead to greater vibration.</span>
</li>
</ul>
<figure style="margin:0"><svg class="chart" style="left:721px;top:1176px" width="973" height="571" viewBox="721 1176 973 571" font-family="'DejaVu Sans','Liberation Sans',sans-serif">
<rect x="727.5" y="1182.5" width="959.5" height="557.9" fill="#fff" stroke="#686868" stroke-width="1.5"/>
<text x="1180" y="1206" font-size="11.9" font-weight="700" text-anchor="middle" fill="#f8f8f8" font-family="'Liberation Mono',monospace">Test0 - Example1 - Amplitude Spectrum - Thrust &amp; Torque Raw Value Signals - Rotation Speed: 53.13Hz</text>
<path d="M841.0 1454.4H1547.7M841.0 1423.0H1547.7M841.0 1391.6H1547.7M841.0 1360.2H1547.7M841.0 1328.8H1547.7M841.0 1297.4H1547.7M841.0 1266.0H1547.7M841.0 1666.6H1547.7M841.0 1626.1H1547.7M841.0 1585.7H1547.7M841.0 1545.2H1547.7M841.0 1504.8H1547.7M977.8 1253.0V1674.8M1120.0 1253.0V1674.8M1262.2 1253.0V1674.8M1404.4 1253.0V1674.8" stroke="#d2d2d2" stroke-width="1.1" fill="none"/>
<polygon points="841.3,1454.4 841.3,1453.4 842.0,1452.4 842.7,1452.5 843.4,1453.1 844.1,1453.2 844.8,1453.1 845.5,1453.0 846.3,1453.4 847.0,1452.9 847.7,1452.1 848.4,1452.3 849.1,1453.4 849.8,1452.9 850.5,1453.4 851.2,1453.2 851.9,1453.1 852.7,1452.8 853.4,1453.3 854.1,1453.3 854.8,1452.9 855.5,1452.8 856.2,1452.3 856.9,1453.2 857.6,1453.0 858.3,1452.0 859.1,1452.8 859.8,1453.1 860.5,1452.6 861.2,1452.3 861.9,1453.4 862.6,1452.8 863.3,1453.3 864.0,1452.9 864.7,1453.2 865.5,1452.9 866.2,1453.2 866.9,1453.0 867.6,1452.7 868.3,1453.3 869.0,1452.8 869.7,1453.2 870.4,1453.3 871.1,1452.6 871.9,1452.5 872.6,1453.0 873.3,1452.8 874.0,1452.2 874.7,1453.4 875.4,1453.1 876.1,1452.9 876.8,1452.4 877.5,1452.8 878.3,1453.0 879.0,1453.2 879.7,1452.7 880.4,1452.5 881.1,1453.0 881.8,1453.0 882.5,1452.1 883.2,1453.2 883.9,1453.3 884.7,1452.9 885.4,1453.1 886.1,1453.4 886.8,1453.2 887.5,1452.8 888.2,1453.0 888.9,1453.4 889.6,1453.1 890.3,1453.1 891.1,1452.6 891.8,1453.0 892.5,1453.3 893.2,1453.0 893.9,1452.5 894.6,1452.1 895.3,1452.3 896.0,1452.8 896.7,1453.1 897.5,1453.4 898.2,1452.7 898.9,1452.5 899.6,1452.5 900.3,1453.0 901.0,1452.5 901.7,1452.3 902.4,1453.2 903.1,1452.5 903.9,1453.3 904.6,1452.3 905.3,1451.9 906.0,1452.1 906.7,1453.0 907.4,1452.9 908.1,1452.3 908.8,1453.1 909.5,1452.9 910.3,1453.2 911.0,1453.4 911.7,1453.3 912.4,1452.9 913.1,1453.2 913.8,1453.2 914.5,1453.4 915.2,1453.3 915.9,1452.5 916.6,1453.1 917.4,1452.5 918.1,1453.3 918.8,1452.4 919.5,1452.5 920.2,1453.1 920.9,1451.9 921.6,1453.4 922.3,1453.1 923.0,1452.4 923.8,1452.5 924.5,1451.5 925.2,1452.8 925.9,1453.0 926.6,1453.0 927.3,1452.8 928.0,1453.3 928.7,1453.2 929.4,1453.3 930.2,1452.6 930.9,1453.4 931.6,1452.8 932.3,1453.1 933.0,1453.2 933.7,1451.8 934.4,1452.4 935.1,1452.9 935.8,1453.0 936.6,1453.0 937.3,1453.0 938.0,1452.5 938.7,1452.8 939.4,1452.7 940.1,1453.4 940.8,1452.9 941.5,1452.9 942.2,1453.1 943.0,1452.6 943.7,1453.0 944.4,1453.4 945.1,1453.3 945.8,1453.2 946.5,1452.0 947.2,1453.4 947.9,1453.3 948.6,1452.6 949.4,1453.0 950.1,1453.0 950.8,1452.9 951.5,1451.9 952.2,1452.9 952.9,1452.1 953.6,1451.9 954.3,1452.8 955.0,1453.2 955.8,1453.1 956.5,1453.0 957.2,1453.0 957.9,1453.3 958.6,1453.3 959.3,1452.3 960.0,1453.3 960.7,1452.9 961.4,1453.4 962.2,1453.1 962.9,1453.0 963.6,1452.8 964.3,1453.2 965.0,1453.2 965.7,1453.4 966.4,1453.1 967.1,1453.3 967.8,1453.1 968.6,1453.2 969.3,1453.4 970.0,1453.0 970.7,1452.5 971.4,1452.8 972.1,1452.9 972.8,1452.9 973.5,1453.3 974.2,1453.0 975.0,1453.2 975.7,1453.0 976.4,1452.7 977.1,1452.8 977.8,1452.5 978.5,1453.4 979.2,1452.5 979.9,1453.2 980.6,1451.9 981.4,1450.7 982.1,1450.7 982.8,1448.7 983.5,1446.5 984.2,1443.8 984.9,1446.2 985.6,1436.8 986.3,1442.8 987.0,1438.2 987.8,1442.9 988.5,1445.9 989.2,1446.3 989.9,1450.4 990.6,1450.3 991.3,1451.7 992.0,1452.2 992.7,1452.8 993.4,1452.5 994.2,1453.2 994.9,1452.2 995.6,1452.7 996.3,1453.1 997.0,1452.9 997.7,1453.1 998.4,1453.4 999.1,1453.4 999.8,1451.7 1000.6,1453.3 1001.3,1452.7 1002.0,1452.9 1002.7,1452.3 1003.4,1452.3 1004.1,1452.7 1004.8,1452.8 1005.5,1452.2 1006.2,1453.4 1007.0,1452.6 1007.7,1453.3 1008.4,1452.0 1009.1,1453.3 1009.8,1453.1 1010.5,1453.1 1011.2,1453.2 1011.9,1453.0 1012.6,1452.8 1013.4,1452.3 1014.1,1453.3 1014.8,1453.3 1015.5,1453.2 1016.2,1452.7 1016.9,1452.2 1017.6,1453.1 1018.3,1452.9 1019.0,1452.7 1019.8,1452.9 1020.5,1452.7 1021.2,1453.2 1021.9,1452.9 1022.6,1451.9 1023.3,1452.9 1024.0,1453.0 1024.7,1453.0 1025.4,1452.5 1026.2,1453.2 1026.9,1453.0 1027.6,1452.3 1028.3,1452.5 1029.0,1453.1 1029.7,1453.4 1030.4,1452.6 1031.1,1452.5 1031.8,1453.2 1032.6,1452.6 1033.3,1453.0 1034.0,1453.1 1034.7,1452.0 1035.4,1452.9 1036.1,1453.3 1036.8,1453.0 1037.5,1453.3 1038.2,1453.4 1039.0,1453.1 1039.7,1453.3 1040.4,1452.6 1041.1,1453.3 1041.8,1453.2 1042.5,1453.1 1043.2,1452.7 1043.9,1452.9 1044.6,1452.3 1045.3,1453.2 1046.1,1453.2 1046.8,1453.2 1047.5,1453.1 1048.2,1453.2 1048.9,1453.0 1049.6,1453.2 1050.3,1452.3 1051.0,1452.5 1051.7,1453.1 1052.5,1452.3 1053.2,1453.3 1053.9,1453.2 1054.6,1453.3 1055.3,1452.6 1056.0,1453.2 1056.7,1450.7 1057.4,1452.5 1058.1,1453.2 1058.9,1453.2 1059.6,1453.3 1060.3,1452.1 1061.0,1452.6 1061.7,1453.1 1062.4,1453.4 1063.1,1452.2 1063.8,1452.9 1064.5,1453.3 1065.3,1451.3 1066.0,1452.9 1066.7,1452.8 1067.4,1453.4 1068.1,1453.4 1068.8,1452.8 1069.5,1453.4 1070.2,1452.9 1070.9,1453.3 1071.7,1451.5 1072.4,1452.5 1073.1,1451.4 1073.8,1453.4 1074.5,1452.8 1075.2,1453.0 1075.9,1453.3 1076.6,1452.0 1077.3,1452.8 1078.1,1452.8 1078.8,1453.3 1079.5,1453.4 1080.2,1453.2 1080.9,1452.5 1081.6,1453.1 1082.3,1453.2 1083.0,1452.5 1083.7,1453.3 1084.5,1453.4 1085.2,1452.9 1085.9,1453.0 1086.6,1453.0 1087.3,1451.4 1088.0,1452.7 1088.7,1453.0 1089.4,1453.3 1090.1,1452.7 1090.9,1453.1 1091.6,1453.2 1092.3,1451.6 1093.0,1453.3 1093.7,1453.1 1094.4,1452.2 1095.1,1452.1 1095.8,1452.4 1096.5,1452.6 1097.3,1451.8 1098.0,1453.0 1098.7,1453.4 1099.4,1452.7 1100.1,1453.4 1100.8,1453.3 1101.5,1452.3 1102.2,1453.1 1102.9,1453.1 1103.7,1453.2 1104.4,1453.1 1105.1,1453.4 1105.8,1453.2 1106.5,1453.4 1107.2,1452.9 1107.9,1453.1 1108.6,1453.0 1109.3,1453.0 1110.1,1452.1 1110.8,1453.4 1111.5,1452.7 1112.2,1453.2 1112.9,1453.0 1113.6,1452.9 1114.3,1453.4 1115.0,1453.3 1115.7,1453.0 1116.5,1452.5 1117.2,1453.0 1117.9,1453.4 1118.6,1452.3 1119.3,1451.7 1120.0,1453.1 1120.7,1453.0 1121.4,1453.1 1122.1,1453.0 1122.9,1453.1 1123.6,1452.2 1124.3,1453.0 1125.0,1453.0 1125.7,1452.7 1126.4,1452.6 1127.1,1452.7 1127.8,1452.8 1128.5,1451.1 1129.3,1452.7 1130.0,1451.1 1130.7,1451.1 1131.4,1448.2 1132.1,1451.2 1132.8,1449.2 1133.5,1444.5 1134.2,1445.5 1134.9,1448.6 1135.7,1437.4 1136.4,1435.9 1137.1,1422.9 1137.8,1405.6 1138.5,1402.8 1139.2,1406.0 1139.9,1424.1 1140.6,1438.4 1141.3,1445.6 1142.1,1447.1 1142.8,1450.6 1143.5,1451.1 1144.2,1451.8 1144.9,1450.9 1145.6,1452.3 1146.3,1451.5 1147.0,1451.9 1147.7,1451.8 1148.5,1452.8 1149.2,1453.0 1149.9,1453.3 1150.6,1452.3 1151.3,1452.5 1152.0,1453.1 1152.7,1452.9 1153.4,1453.2 1154.1,1452.3 1154.9,1453.2 1155.6,1452.8 1156.3,1452.2 1157.0,1453.1 1157.7,1453.3 1158.4,1452.7 1159.1,1452.4 1159.8,1453.1 1160.5,1452.9 1161.3,1453.1 1162.0,1453.2 1162.7,1453.2 1163.4,1452.6 1164.1,1452.2 1164.8,1453.3 1165.5,1453.3 1166.2,1453.0 1166.9,1452.0 1167.7,1453.4 1168.4,1452.7 1169.1,1451.7 1169.8,1452.9 1170.5,1453.4 1171.2,1453.3 1171.9,1451.6 1172.6,1452.9 1173.3,1452.2 1174.0,1452.9 1174.8,1452.9 1175.5,1452.9 1176.2,1452.3 1176.9,1452.8 1177.6,1452.4 1178.3,1453.3 1179.0,1453.4 1179.7,1452.9 1180.4,1452.3 1181.2,1453.4 1181.9,1452.7 1182.6,1452.5 1183.3,1452.7 1184.0,1453.1 1184.7,1451.9 1185.4,1453.4 1186.1,1452.7 1186.8,1453.2 1187.6,1452.6 1188.3,1452.7 1189.0,1452.9 1189.7,1453.2 1190.4,1453.0 1191.1,1453.2 1191.8,1452.6 1192.5,1453.3 1193.2,1453.2 1194.0,1452.5 1194.7,1452.6 1195.4,1452.9 1196.1,1453.2 1196.8,1453.3 1197.5,1452.7 1198.2,1452.7 1198.9,1452.8 1199.6,1453.2 1200.4,1453.2 1201.1,1452.9 1201.8,1452.9 1202.5,1452.9 1203.2,1453.3 1203.9,1452.7 1204.6,1453.2 1205.3,1453.4 1206.0,1453.1 1206.8,1453.4 1207.5,1452.9 1208.2,1452.5 1208.9,1452.4 1209.6,1452.9 1210.3,1453.3 1211.0,1452.4 1211.7,1453.0 1212.4,1452.5 1213.2,1452.7 1213.9,1452.8 1214.6,1452.3 1215.3,1452.9 1216.0,1453.1 1216.7,1452.8 1217.4,1452.6 1218.1,1453.3 1218.8,1453.4 1219.6,1453.1 1220.3,1452.7 1221.0,1452.8 1221.7,1452.8 1222.4,1453.1 1223.1,1453.2 1223.8,1453.0 1224.5,1452.6 1225.2,1452.4 1226.0,1453.0 1226.7,1453.3 1227.4,1452.4 1228.1,1453.1 1228.8,1452.7 1229.5,1452.6 1230.2,1452.6 1230.9,1453.4 1231.6,1453.3 1232.4,1452.6 1233.1,1453.2 1233.8,1453.2 1234.5,1452.5 1235.2,1453.2 1235.9,1453.0 1236.6,1453.5 1237.3,1453.0 1238.0,1453.1 1238.8,1453.3 1239.5,1453.0 1240.2,1452.3 1240.9,1452.8 1241.6,1453.3 1242.3,1452.8 1243.0,1452.4 1243.7,1452.5 1244.4,1452.8 1245.2,1453.3 1245.9,1452.7 1246.6,1453.3 1247.3,1452.2 1248.0,1453.3 1248.7,1452.5 1249.4,1453.2 1250.1,1452.6 1250.8,1453.3 1251.6,1452.7 1252.3,1452.9 1253.0,1452.6 1253.7,1452.5 1254.4,1453.0 1255.1,1451.9 1255.8,1452.9 1256.5,1452.3 1257.2,1452.9 1258.0,1452.7 1258.7,1452.1 1259.4,1453.3 1260.1,1452.2 1260.8,1453.1 1261.5,1452.1 1262.2,1451.5 1262.9,1453.2 1263.6,1451.7 1264.4,1453.0 1265.1,1452.8 1265.8,1453.4 1266.5,1453.2 1267.2,1453.0 1267.9,1452.2 1268.6,1452.5 1269.3,1453.0 1270.0,1453.2 1270.8,1452.4 1271.5,1452.2 1272.2,1452.0 1272.9,1452.7 1273.6,1452.1 1274.3,1453.4 1275.0,1453.3 1275.7,1452.3 1276.4,1453.3 1277.2,1453.2 1277.9,1452.3 1278.6,1452.5 1279.3,1452.8 1280.0,1452.4 1280.7,1452.3 1281.4,1452.6 1282.1,1452.8 1282.8,1453.3 1283.6,1452.6 1284.3,1453.3 1285.0,1452.5 1285.7,1452.2 1286.4,1452.7 1287.1,1453.4 1287.8,1453.3 1288.5,1452.5 1289.2,1452.4 1290.0,1453.4 1290.7,1453.3 1291.4,1453.1 1292.1,1453.1 1292.8,1453.1 1293.5,1453.3 1294.2,1453.2 1294.9,1453.1 1295.6,1453.4 1296.4,1453.0 1297.1,1453.4 1297.8,1453.2 1298.5,1451.8 1299.2,1453.1 1299.9,1453.2 1300.6,1452.4 1301.3,1451.9 1302.0,1452.1 1302.7,1452.6 1303.5,1453.4 1304.2,1451.6 1304.9,1453.2 1305.6,1452.5 1306.3,1453.3 1307.0,1451.6 1307.7,1451.7 1308.4,1452.7 1309.1,1453.3 1309.9,1452.5 1310.6,1452.6 1311.3,1452.3 1312.0,1452.6 1312.7,1452.4 1313.4,1452.9 1314.1,1452.6 1314.8,1452.8 1315.5,1452.6 1316.3,1452.8 1317.0,1452.6 1317.7,1452.8 1318.4,1453.4 1319.1,1453.1 1319.8,1452.8 1320.5,1453.3 1321.2,1452.0 1321.9,1453.3 1322.7,1453.2 1323.4,1452.9 1324.1,1452.5 1324.8,1452.2 1325.5,1453.2 1326.2,1452.6 1326.9,1452.4 1327.6,1452.2 1328.3,1453.3 1329.1,1452.8 1329.8,1453.4 1330.5,1452.9 1331.2,1453.2 1331.9,1452.3 1332.6,1453.2 1333.3,1453.3 1334.0,1453.2 1334.7,1453.4 1335.5,1452.8 1336.2,1452.8 1336.9,1453.2 1337.6,1453.4 1338.3,1451.6 1339.0,1453.1 1339.7,1453.3 1340.4,1451.9 1341.1,1453.5 1341.9,1452.6 1342.6,1452.9 1343.3,1452.8 1344.0,1453.1 1344.7,1453.2 1345.4,1453.4 1346.1,1452.9 1346.8,1453.0 1347.5,1453.0 1348.3,1452.6 1349.0,1452.9 1349.7,1453.0 1350.4,1451.9 1351.1,1453.0 1351.8,1452.3 1352.5,1452.5 1353.2,1453.3 1353.9,1452.4 1354.7,1453.1 1355.4,1453.0 1356.1,1452.7 1356.8,1453.4 1357.5,1452.6 1358.2,1452.4 1358.9,1452.7 1359.6,1452.4 1360.3,1453.3 1361.1,1453.0 1361.8,1453.2 1362.5,1452.0 1363.2,1452.7 1363.9,1452.1 1364.6,1453.4 1365.3,1453.4 1366.0,1453.3 1366.7,1453.1 1367.5,1452.4 1368.2,1452.8 1368.9,1452.7 1369.6,1453.2 1370.3,1453.0 1371.0,1452.9 1371.7,1452.9 1372.4,1453.2 1373.1,1452.9 1373.9,1452.7 1374.6,1453.1 1375.3,1452.7 1376.0,1453.4 1376.7,1453.3 1377.4,1453.2 1378.1,1453.3 1378.8,1453.3 1379.5,1452.1 1380.3,1452.2 1381.0,1452.9 1381.7,1453.0 1382.4,1452.4 1383.1,1453.3 1383.8,1453.4 1384.5,1453.0 1385.2,1452.3 1385.9,1453.3 1386.7,1452.6 1387.4,1452.8 1388.1,1452.4 1388.8,1452.6 1389.5,1452.9 1390.2,1453.1 1390.9,1453.5 1391.6,1452.9 1392.3,1452.9 1393.1,1452.7 1393.8,1452.1 1394.5,1452.6 1395.2,1452.6 1395.9,1452.4 1396.6,1453.2 1397.3,1453.0 1398.0,1452.0 1398.7,1451.6 1399.5,1452.8 1400.2,1452.5 1400.9,1452.5 1401.6,1452.6 1402.3,1452.6 1403.0,1452.3 1403.7,1452.7 1404.4,1452.6 1405.1,1453.2 1405.9,1452.8 1406.6,1453.4 1407.3,1452.6 1408.0,1452.4 1408.7,1453.2 1409.4,1452.4 1410.1,1451.8 1410.8,1452.1 1411.5,1452.7 1412.3,1453.4 1413.0,1453.0 1413.7,1451.9 1414.4,1453.2 1415.1,1452.5 1415.8,1452.5 1416.5,1452.9 1417.2,1453.2 1417.9,1453.0 1418.7,1452.9 1419.4,1453.3 1420.1,1452.7 1420.8,1452.9 1421.5,1453.4 1422.2,1452.6 1422.9,1452.8 1423.6,1451.4 1424.3,1453.1 1425.1,1451.8 1425.8,1453.1 1426.5,1453.3 1427.2,1452.8 1427.9,1453.1 1428.6,1453.1 1429.3,1453.1 1430.0,1453.4 1430.7,1453.3 1431.4,1453.0 1432.2,1452.6 1432.9,1453.4 1433.6,1452.7 1434.3,1453.0 1435.0,1453.1 1435.7,1453.1 1436.4,1451.5 1437.1,1453.3 1437.8,1452.7 1438.6,1452.0 1439.3,1453.4 1440.0,1453.3 1440.7,1452.7 1441.4,1452.2 1442.1,1453.2 1442.8,1453.2 1443.5,1453.4 1444.2,1452.5 1445.0,1452.6 1445.7,1453.3 1446.4,1452.2 1447.1,1453.3 1447.8,1452.2 1448.5,1452.7 1449.2,1453.4 1449.9,1452.8 1450.6,1452.6 1451.4,1452.4 1452.1,1453.3 1452.8,1453.0 1453.5,1452.4 1454.2,1452.8 1454.9,1453.3 1455.6,1453.4 1456.3,1453.4 1457.0,1452.6 1457.8,1453.0 1458.5,1453.1 1459.2,1453.4 1459.9,1453.3 1460.6,1453.3 1461.3,1451.8 1462.0,1453.0 1462.7,1453.3 1463.4,1453.2 1464.2,1453.0 1464.9,1453.1 1465.6,1453.1 1466.3,1452.7 1467.0,1452.3 1467.7,1453.4 1468.4,1452.5 1469.1,1453.3 1469.8,1452.6 1470.6,1452.7 1471.3,1453.4 1472.0,1452.4 1472.7,1453.0 1473.4,1453.2 1474.1,1452.4 1474.8,1452.8 1475.5,1451.9 1476.2,1453.1 1477.0,1453.3 1477.7,1452.5 1478.4,1451.8 1479.1,1452.5 1479.8,1451.6 1480.5,1452.3 1481.2,1452.8 1481.9,1453.2 1482.6,1451.6 1483.4,1453.4 1484.1,1453.1 1484.8,1453.3 1485.5,1452.4 1486.2,1453.1 1486.9,1453.4 1487.6,1453.2 1488.3,1453.2 1489.0,1452.7 1489.8,1452.5 1490.5,1452.7 1491.2,1452.8 1491.9,1452.3 1492.6,1453.2 1493.3,1452.9 1494.0,1453.4 1494.7,1453.0 1495.4,1451.8 1496.2,1452.6 1496.9,1453.4 1497.6,1453.0 1498.3,1452.4 1499.0,1451.9 1499.7,1452.8 1500.4,1453.3 1501.1,1453.0 1501.8,1452.9 1502.6,1452.8 1503.3,1452.7 1504.0,1452.9 1504.7,1452.8 1505.4,1453.4 1506.1,1453.3 1506.8,1452.4 1507.5,1452.8 1508.2,1453.4 1509.0,1453.1 1509.7,1452.4 1510.4,1452.9 1511.1,1452.8 1511.8,1452.5 1512.5,1452.9 1513.2,1452.5 1513.9,1453.2 1514.6,1452.7 1515.4,1452.9 1516.1,1453.4 1516.8,1453.1 1517.5,1452.4 1518.2,1452.5 1518.9,1452.8 1519.6,1453.3 1520.3,1452.8 1521.0,1453.0 1521.8,1453.3 1522.5,1452.4 1523.2,1453.1 1523.9,1452.9 1524.6,1452.5 1525.3,1453.3 1526.0,1453.0 1526.7,1452.3 1527.4,1453.5 1528.2,1452.8 1528.9,1452.7 1529.6,1452.0 1530.3,1451.8 1531.0,1453.4 1531.7,1453.3 1532.4,1452.6 1533.1,1453.4 1533.8,1453.1 1534.6,1452.4 1535.3,1453.3 1536.0,1453.2 1536.7,1453.1 1537.4,1453.3 1538.1,1452.4 1538.8,1452.1 1539.5,1452.7 1540.2,1452.9 1541.0,1453.1 1541.7,1453.1 1542.4,1451.9 1543.1,1451.4 1543.8,1453.0 1544.5,1453.2 1545.2,1453.0 1545.9,1453.2 1546.6,1453.3 1547.4,1452.6 1548.1,1452.8 1548.8,1453.3 1548.8,1454.4" fill="#4169e1" stroke="#4169e1" stroke-width="0.8" stroke-linejoin="round"/>
<line x1="986.3" x2="986.3" y1="1454.4" y2="1265.2" stroke="#4169e1" stroke-width="1.5"/><circle cx="986.3" cy="1265.2" r="3.0" fill="#4169e1"/>
<line x1="1138.5" x2="1138.5" y1="1454.4" y2="1387.0" stroke="#4169e1" stroke-width="1.5"/><circle cx="1138.5" cy="1387.0" r="3.0" fill="#4169e1"/>
<line x1="911.0" x2="911.0" y1="1454.4" y2="1424.4" stroke="#4169e1" stroke-width="1.5"/><circle cx="911.0" cy="1424.4" r="3.0" fill="#4169e1"/>
<line x1="1061.7" x2="1061.7" y1="1454.4" y2="1442.6" stroke="#4169e1" stroke-width="1.5"/><circle cx="1061.7" cy="1442.6" r="3.0" fill="#4169e1"/>
<line x1="861.9" x2="861.9" y1="1454.4" y2="1453.1" stroke="#4169e1" stroke-width="1.5"/><circle cx="861.9" cy="1453.1" r="3.0" fill="#4169e1"/>
<line x1="842.0" x2="1558" y1="1453.4" y2="1453.4" stroke="#ff0000" stroke-width="5.6" stroke-linecap="round"/>
<g fill="#ff0000"><circle cx="853.0" cy="1455.1" r="2.7"/><circle cx="853.5" cy="1455.5" r="2.7"/><circle cx="853.8" cy="1455.1" r="2.7"/><circle cx="855.9" cy="1454.7" r="2.7"/><circle cx="857.0" cy="1455.5" r="2.7"/><circle cx="858.5" cy="1455.8" r="2.7"/><circle cx="860.6" cy="1454.9" r="2.7"/><circle cx="860.6" cy="1455.0" r="2.7"/><circle cx="864.2" cy="1454.9" r="2.7"/><circle cx="865.6" cy="1455.4" r="2.7"/><circle cx="866.7" cy="1455.1" r="2.7"/><circle cx="868.0" cy="1454.7" r="2.7"/><circle cx="877.0" cy="1455.7" r="2.7"/><circle cx="890.1" cy="1454.4" r="2.7"/><circle cx="890.2" cy="1455.7" r="2.7"/><circle cx="890.7" cy="1455.7" r="2.7"/><circle cx="894.3" cy="1454.5" r="2.7"/><circle cx="896.9" cy="1454.4" r="2.7"/><circle cx="904.6" cy="1455.4" r="2.7"/><circle cx="915.7" cy="1455.3" r="2.7"/><circle cx="923.0" cy="1454.7" r="2.7"/><circle cx="924.4" cy="1455.0" r="2.7"/><circle cx="927.0" cy="1454.5" r="2.7"/><circle cx="931.6" cy="1455.0" r="2.7"/><circle cx="932.1" cy="1455.2" r="2.7"/><circle cx="933.7" cy="1455.7" r="2.7"/><circle cx="937.1" cy="1455.0" r="2.7"/><circle cx="937.4" cy="1454.6" r="2.7"/><circle cx="942.9" cy="1455.8" r="2.7"/><circle cx="943.3" cy="1455.4" r="2.7"/><circle cx="944.2" cy="1454.6" r="2.7"/><circle cx="945.3" cy="1454.5" r="2.7"/><circle cx="954.6" cy="1455.0" r="2.7"/><circle cx="955.5" cy="1454.8" r="2.7"/><circle cx="956.9" cy="1455.0" r="2.7"/><circle cx="958.7" cy="1454.8" r="2.7"/><circle cx="960.8" cy="1455.8" r="2.7"/><circle cx="964.5" cy="1455.6" r="2.7"/><circle cx="966.6" cy="1455.4" r="2.7"/><circle cx="970.6" cy="1454.5" r="2.7"/><circle cx="971.8" cy="1455.6" r="2.7"/><circle cx="973.5" cy="1455.0" r="2.7"/><circle cx="974.2" cy="1455.7" r="2.7"/><circle cx="980.7" cy="1454.5" r="2.7"/><circle cx="981.9" cy="1454.6" r="2.7"/><circle cx="993.3" cy="1454.6" r="2.7"/><circle cx="993.7" cy="1455.6" r="2.7"/><circle cx="1000.2" cy="1455.8" r="2.7"/><circle cx="1001.6" cy="1455.5" r="2.7"/><circle cx="1001.8" cy="1454.9" r="2.7"/><circle cx="1004.3" cy="1454.5" r="2.7"/><circle cx="1006.4" cy="1455.8" r="2.7"/><circle cx="1006.8" cy="1454.7" r="2.7"/><circle cx="1015.1" cy="1455.6" r="2.7"/><circle cx="1015.4" cy="1455.1" r="2.7"/><circle cx="1016.9" cy="1454.9" r="2.7"/><circle cx="1018.5" cy="1455.0" r="2.7"/><circle cx="1021.2" cy="1454.5" r="2.7"/><circle cx="1029.5" cy="1454.6" r="2.7"/><circle cx="1032.7" cy="1455.7" r="2.7"/><circle cx="1034.9" cy="1455.1" r="2.7"/><circle cx="1040.1" cy="1455.4" r="2.7"/><circle cx="1044.2" cy="1454.9" r="2.7"/><circle cx="1044.7" cy="1455.1" r="2.7"/><circle cx="1048.0" cy="1455.6" r="2.7"/><circle cx="1049.2" cy="1455.4" r="2.7"/><circle cx="1049.8" cy="1455.0" r="2.7"/><circle cx="1049.9" cy="1455.1" r="2.7"/><circle cx="1051.9" cy="1455.9" r="2.7"/><circle cx="1054.9" cy="1454.4" r="2.7"/><circle cx="1065.3" cy="1455.0" r="2.7"/><circle cx="1065.4" cy="1454.6" r="2.7"/><circle cx="1070.1" cy="1454.6" r="2.7"/><circle cx="1070.4" cy="1454.5" r="2.7"/><circle cx="1074.3" cy="1455.5" r="2.7"/><circle cx="1075.0" cy="1455.1" r="2.7"/><circle cx="1079.4" cy="1455.2" r="2.7"/><circle cx="1080.0" cy="1454.9" r="2.7"/><circle cx="1089.9" cy="1455.0" r="2.7"/><circle cx="1096.1" cy="1455.1" r="2.7"/><circle cx="1098.2" cy="1455.6" r="2.7"/><circle cx="1099.8" cy="1454.5" r="2.7"/><circle cx="1104.7" cy="1454.7" r="2.7"/><circle cx="1107.3" cy="1454.7" r="2.7"/><circle cx="1108.0" cy="1455.1" r="2.7"/><circle cx="1112.6" cy="1455.1" r="2.7"/><circle cx="1114.2" cy="1455.4" r="2.7"/><circle cx="1116.0" cy="1455.9" r="2.7"/><circle cx="1116.4" cy="1455.8" r="2.7"/><circle cx="1117.1" cy="1454.8" r="2.7"/><circle cx="1117.6" cy="1455.0" r="2.7"/><circle cx="1120.6" cy="1455.2" r="2.7"/><circle cx="1125.3" cy="1455.6" r="2.7"/><circle cx="1129.5" cy="1455.2" r="2.7"/><circle cx="1133.5" cy="1454.6" r="2.7"/><circle cx="1133.5" cy="1454.5" r="2.7"/><circle cx="1139.5" cy="1454.9" r="2.7"/><circle cx="1141.7" cy="1455.3" r="2.7"/><circle cx="1144.5" cy="1454.7" r="2.7"/><circle cx="1146.7" cy="1455.1" r="2.7"/><circle cx="1148.2" cy="1455.0" r="2.7"/><circle cx="1157.5" cy="1455.8" r="2.7"/><circle cx="1163.8" cy="1455.4" r="2.7"/><circle cx="1165.7" cy="1455.9" r="2.7"/><circle cx="1171.8" cy="1455.2" r="2.7"/><circle cx="1172.7" cy="1455.1" r="2.7"/><circle cx="1178.4" cy="1455.9" r="2.7"/><circle cx="1181.6" cy="1455.0" r="2.7"/><circle cx="1182.3" cy="1455.2" r="2.7"/><circle cx="1188.5" cy="1454.4" r="2.7"/><circle cx="1191.6" cy="1454.7" r="2.7"/><circle cx="1192.6" cy="1454.8" r="2.7"/><circle cx="1196.1" cy="1454.8" r="2.7"/><circle cx="1196.6" cy="1455.1" r="2.7"/><circle cx="1205.7" cy="1455.7" r="2.7"/><circle cx="1208.7" cy="1454.7" r="2.7"/><circle cx="1215.2" cy="1454.5" r="2.7"/><circle cx="1226.2" cy="1455.2" r="2.7"/><circle cx="1227.8" cy="1454.9" r="2.7"/><circle cx="1229.2" cy="1454.5" r="2.7"/><circle cx="1229.3" cy="1455.5" r="2.7"/><circle cx="1230.7" cy="1455.8" r="2.7"/><circle cx="1235.6" cy="1455.5" r="2.7"/><circle cx="1240.4" cy="1455.6" r="2.7"/><circle cx="1242.7" cy="1455.5" r="2.7"/><circle cx="1248.9" cy="1455.9" r="2.7"/><circle cx="1250.1" cy="1454.6" r="2.7"/><circle cx="1250.1" cy="1455.7" r="2.7"/><circle cx="1254.1" cy="1455.5" r="2.7"/><circle cx="1258.9" cy="1455.8" r="2.7"/><circle cx="1259.2" cy="1455.7" r="2.7"/><circle cx="1262.8" cy="1455.2" r="2.7"/><circle cx="1273.7" cy="1455.4" r="2.7"/><circle cx="1275.4" cy="1454.8" r="2.7"/><circle cx="1281.6" cy="1454.9" r="2.7"/><circle cx="1287.1" cy="1454.6" r="2.7"/><circle cx="1290.9" cy="1455.0" r="2.7"/><circle cx="1291.9" cy="1455.6" r="2.7"/><circle cx="1301.7" cy="1454.9" r="2.7"/><circle cx="1302.2" cy="1455.7" r="2.7"/><circle cx="1308.3" cy="1454.7" r="2.7"/><circle cx="1311.8" cy="1455.4" r="2.7"/><circle cx="1311.9" cy="1454.8" r="2.7"/><circle cx="1314.2" cy="1455.4" r="2.7"/><circle cx="1316.1" cy="1455.6" r="2.7"/><circle cx="1316.7" cy="1455.7" r="2.7"/><circle cx="1317.6" cy="1455.5" r="2.7"/><circle cx="1325.0" cy="1454.6" r="2.7"/><circle cx="1329.0" cy="1455.4" r="2.7"/><circle cx="1334.2" cy="1454.8" r="2.7"/><circle cx="1336.4" cy="1455.2" r="2.7"/><circle cx="1347.0" cy="1454.6" r="2.7"/><circle cx="1347.2" cy="1455.1" r="2.7"/><circle cx="1357.2" cy="1455.4" r="2.7"/><circle cx="1362.3" cy="1454.6" r="2.7"/><circle cx="1366.6" cy="1455.3" r="2.7"/><circle cx="1375.1" cy="1455.7" r="2.7"/><circle cx="1378.4" cy="1455.2" r="2.7"/><circle cx="1378.5" cy="1454.9" r="2.7"/><circle cx="1378.9" cy="1454.7" r="2.7"/><circle cx="1386.9" cy="1455.1" r="2.7"/><circle cx="1393.6" cy="1455.0" r="2.7"/><circle cx="1394.1" cy="1455.4" r="2.7"/><circle cx="1395.3" cy="1455.5" r="2.7"/><circle cx="1398.4" cy="1455.4" r="2.7"/><circle cx="1398.5" cy="1455.5" r="2.7"/><circle cx="1399.1" cy="1455.6" r="2.7"/><circle cx="1401.0" cy="1455.5" r="2.7"/><circle cx="1401.7" cy="1454.8" r="2.7"/><circle cx="1405.6" cy="1455.3" r="2.7"/><circle cx="1412.2" cy="1455.0" r="2.7"/><circle cx="1418.3" cy="1454.5" r="2.7"/><circle cx="1426.3" cy="1455.3" r="2.7"/><circle cx="1428.9" cy="1454.6" r="2.7"/><circle cx="1429.2" cy="1455.4" r="2.7"/><circle cx="1430.6" cy="1455.2" r="2.7"/><circle cx="1433.2" cy="1454.5" r="2.7"/><circle cx="1433.7" cy="1455.0" r="2.7"/><circle cx="1438.4" cy="1455.2" r="2.7"/><circle cx="1447.1" cy="1454.8" r="2.7"/><circle cx="1448.0" cy="1455.8" r="2.7"/><circle cx="1448.5" cy="1455.8" r="2.7"/><circle cx="1449.8" cy="1454.6" r="2.7"/><circle cx="1453.4" cy="1455.5" r="2.7"/><circle cx="1458.5" cy="1455.0" r="2.7"/><circle cx="1459.9" cy="1455.7" r="2.7"/><circle cx="1472.5" cy="1455.8" r="2.7"/><circle cx="1475.7" cy="1455.2" r="2.7"/><circle cx="1476.2" cy="1455.4" r="2.7"/><circle cx="1477.1" cy="1455.0" r="2.7"/><circle cx="1477.3" cy="1455.4" r="2.7"/><circle cx="1487.5" cy="1455.9" r="2.7"/><circle cx="1490.9" cy="1454.9" r="2.7"/><circle cx="1491.7" cy="1454.4" r="2.7"/><circle cx="1494.5" cy="1455.9" r="2.7"/><circle cx="1498.7" cy="1454.4" r="2.7"/><circle cx="1499.5" cy="1455.4" r="2.7"/><circle cx="1507.8" cy="1455.3" r="2.7"/><circle cx="1515.8" cy="1455.0" r="2.7"/><circle cx="1517.8" cy="1455.8" r="2.7"/><circle cx="1519.5" cy="1454.6" r="2.7"/><circle cx="1526.5" cy="1454.8" r="2.7"/><circle cx="1531.3" cy="1455.6" r="2.7"/><circle cx="1531.7" cy="1454.4" r="2.7"/><circle cx="1532.3" cy="1454.8" r="2.7"/><circle cx="1536.4" cy="1454.7" r="2.7"/><circle cx="1542.3" cy="1455.0" r="2.7"/><circle cx="1547.7" cy="1455.5" r="2.7"/><circle cx="1547.9" cy="1455.8" r="2.7"/><circle cx="1549.0" cy="1454.8" r="2.7"/></g>
<circle cx="861.9" cy="1457" r="2.2" fill="#4169e1"/>
<circle cx="1033.3" cy="1457" r="2.2" fill="#4169e1"/>
<circle cx="1320.5" cy="1457" r="2.2" fill="#4169e1"/>
<circle cx="1437.1" cy="1457" r="2.2" fill="#4169e1"/>
<circle cx="1512.5" cy="1457" r="2.2" fill="#4169e1"/>
<polygon points="969.3,1454.4 969.3,1454.4 970.0,1454.4 970.7,1454.4 971.4,1454.4 972.1,1454.4 972.8,1454.4 973.5,1454.4 974.2,1454.4 975.0,1454.4 975.7,1454.4 976.4,1454.4 977.1,1454.4 977.8,1454.4 978.5,1454.4 979.2,1454.4 979.9,1454.4 980.6,1454.4 981.4,1454.4 982.1,1454.2 982.8,1453.7 983.5,1452.3 984.2,1449.3 984.9,1444.9 985.6,1440.5 986.3,1438.7 987.0,1440.5 987.8,1444.9 988.5,1449.3 989.2,1452.3 989.9,1453.7 990.6,1454.2 991.3,1454.4 992.0,1454.4 992.7,1454.4 993.4,1454.4 994.2,1454.4 994.9,1454.4 995.6,1454.4 996.3,1454.4 997.0,1454.4 997.7,1454.4 998.4,1454.4 999.1,1454.4 999.8,1454.4 1000.6,1454.4 1001.3,1454.4 1002.0,1454.4 1002.7,1454.4 1003.4,1454.4 1004.1,1454.4 1004.1,1454.4" fill="#ff0000" stroke="#ff0000" stroke-width="0.8" stroke-linejoin="round"/>
<line x1="986.3" x2="986.3" y1="1454.4" y2="1411.6" stroke="#ff0000" stroke-width="1.5"/><circle cx="986.3" cy="1411.6" r="3.0" fill="#ff0000"/>
<line x1="852.7" x2="852.7" y1="1454.4" y2="1442.8" stroke="#ff0000" stroke-width="1.5"/><circle cx="852.7" cy="1442.8" r="3.0" fill="#ff0000"/>
<line x1="911.0" x2="911.0" y1="1454.4" y2="1450.5" stroke="#ff0000" stroke-width="1.5"/><circle cx="911.0" cy="1450.5" r="3.0" fill="#ff0000"/>
<text x="992.8" y="1264.8" font-size="5.5" fill="#4169e1" opacity="1">106Hz,-73,0.30123</text>
<text x="1145.0" y="1386.6" font-size="5.5" fill="#4169e1" opacity="1">213Hz,-105,0.10727</text>
<text x="917.5" y="1424.0" font-size="5.5" fill="#4169e1" opacity="1">53Hz,-131,0.04782</text>
<text x="1068.2" y="1442.2" font-size="5.5" fill="#4169e1" opacity="1">159Hz,51,0.01880</text>
<text x="992.8" y="1411.2" font-size="5.5" fill="#ff0000" opacity="1">106Hz,39,0.06811</text>
<text x="859.2" y="1442.4" font-size="5.5" fill="#ff0000" opacity="1">12Hz,23,0.01846</text>
<text x="917.5" y="1450.1" font-size="5.5" fill="#ff0000" opacity="0.8">53Hz,167,0.00615</text>
<text x="1295.7" y="1450.9" font-size="5.5" fill="#ff0000" opacity="0.7">319Hz,-25,0.00593</text>
<polygon points="841.3,1666.6 841.3,1663.9 842.0,1662.3 842.7,1661.9 843.4,1663.9 844.1,1662.6 844.8,1662.6 845.5,1662.7 846.3,1662.6 847.0,1663.3 847.7,1662.0 848.4,1663.4 849.1,1661.9 849.8,1661.9 850.5,1662.1 851.2,1663.1 851.9,1661.9 852.7,1663.5 853.4,1662.9 854.1,1662.8 854.8,1663.6 855.5,1661.8 856.2,1663.5 856.9,1662.9 857.6,1663.7 858.3,1663.3 859.1,1662.1 859.8,1662.4 860.5,1663.1 861.2,1662.5 861.9,1663.6 862.6,1662.5 863.3,1662.0 864.0,1663.9 864.7,1663.3 865.5,1663.4 866.2,1663.7 866.9,1661.9 867.6,1662.4 868.3,1662.6 869.0,1662.6 869.7,1662.5 870.4,1663.3 871.1,1663.5 871.9,1663.8 872.6,1663.6 873.3,1663.5 874.0,1662.2 874.7,1663.2 875.4,1663.1 876.1,1662.3 876.8,1661.8 877.5,1663.7 878.3,1662.6 879.0,1663.0 879.7,1663.5 880.4,1663.2 881.1,1662.2 881.8,1663.3 882.5,1662.7 883.2,1662.9 883.9,1663.9 884.7,1662.1 885.4,1662.0 886.1,1662.1 886.8,1663.0 887.5,1663.0 888.2,1662.5 888.9,1661.8 889.6,1662.8 890.3,1663.3 891.1,1662.9 891.8,1662.7 892.5,1662.6 893.2,1661.6 893.9,1662.1 894.6,1661.2 895.3,1661.9 896.0,1661.7 896.7,1660.1 897.5,1661.8 898.2,1661.5 898.9,1660.4 899.6,1661.7 900.3,1661.3 901.0,1659.8 901.7,1659.0 902.4,1657.3 903.1,1660.8 903.9,1660.9 904.6,1657.7 905.3,1656.4 906.0,1660.1 906.7,1658.9 907.4,1656.9 908.1,1657.0 908.8,1655.8 909.5,1656.9 910.3,1655.4 911.0,1658.7 911.7,1656.4 912.4,1657.1 913.1,1658.1 913.8,1656.4 914.5,1655.7 915.2,1657.1 915.9,1656.3 916.6,1657.9 917.4,1655.5 918.1,1658.0 918.8,1656.7 919.5,1656.8 920.2,1657.3 920.9,1655.0 921.6,1656.2 922.3,1656.8 923.0,1656.1 923.8,1656.1 924.5,1658.1 925.2,1658.2 925.9,1656.6 926.6,1659.2 927.3,1655.5 928.0,1655.7 928.7,1656.4 929.4,1658.1 930.2,1654.6 930.9,1655.9 931.6,1655.2 932.3,1656.0 933.0,1656.9 933.7,1658.4 934.4,1658.9 935.1,1655.5 935.8,1656.5 936.6,1658.6 937.3,1658.8 938.0,1657.3 938.7,1656.5 939.4,1655.8 940.1,1657.3 940.8,1658.6 941.5,1656.2 942.2,1659.2 943.0,1659.0 943.7,1657.9 944.4,1657.2 945.1,1660.3 945.8,1659.9 946.5,1657.5 947.2,1659.2 947.9,1659.3 948.6,1659.5 949.4,1661.0 950.1,1658.2 950.8,1658.8 951.5,1660.2 952.2,1662.3 952.9,1660.7 953.6,1660.7 954.3,1662.3 955.0,1663.1 955.8,1662.0 956.5,1662.5 957.2,1663.1 957.9,1663.3 958.6,1661.9 959.3,1663.7 960.0,1663.3 960.7,1662.9 961.4,1662.6 962.2,1663.4 962.9,1662.6 963.6,1663.7 964.3,1662.8 965.0,1663.7 965.7,1663.1 966.4,1662.4 967.1,1663.5 967.8,1663.6 968.6,1661.8 969.3,1663.0 970.0,1663.8 970.7,1663.0 971.4,1663.3 972.1,1662.1 972.8,1662.0 973.5,1662.3 974.2,1662.5 975.0,1662.7 975.7,1663.8 976.4,1662.5 977.1,1663.1 977.8,1663.3 978.5,1662.7 979.2,1663.4 979.9,1661.8 980.6,1662.6 981.4,1662.3 982.1,1663.7 982.8,1663.9 983.5,1663.6 984.2,1663.5 984.9,1662.7 985.6,1662.5 986.3,1662.0 987.0,1663.7 987.8,1662.8 988.5,1662.5 989.2,1663.0 989.9,1663.8 990.6,1663.7 991.3,1663.9 992.0,1663.2 992.7,1663.6 993.4,1661.9 994.2,1662.6 994.9,1663.7 995.6,1662.5 996.3,1662.8 997.0,1662.1 997.7,1663.5 998.4,1663.2 999.1,1662.9 999.8,1662.8 1000.6,1663.6 1001.3,1662.1 1002.0,1663.6 1002.7,1662.9 1003.4,1662.7 1004.1,1663.0 1004.8,1663.2 1005.5,1662.4 1006.2,1662.8 1007.0,1662.4 1007.7,1662.3 1008.4,1661.9 1009.1,1662.9 1009.8,1663.0 1010.5,1661.9 1011.2,1661.8 1011.9,1662.0 1012.6,1663.5 1013.4,1661.9 1014.1,1662.5 1014.8,1662.8 1015.5,1663.6 1016.2,1663.6 1016.9,1662.0 1017.6,1663.3 1018.3,1662.9 1019.0,1663.0 1019.8,1663.1 1020.5,1663.0 1021.2,1663.3 1021.9,1662.0 1022.6,1662.8 1023.3,1663.3 1024.0,1663.5 1024.7,1662.2 1025.4,1662.2 1026.2,1662.1 1026.9,1662.6 1027.6,1663.2 1028.3,1663.5 1029.0,1663.1 1029.7,1663.7 1030.4,1663.3 1031.1,1663.2 1031.8,1663.7 1032.6,1663.6 1033.3,1663.7 1034.0,1663.1 1034.7,1661.9 1035.4,1661.8 1036.1,1663.7 1036.8,1662.6 1037.5,1663.9 1038.2,1662.5 1039.0,1662.6 1039.7,1662.8 1040.4,1663.3 1041.1,1662.9 1041.8,1663.8 1042.5,1662.5 1043.2,1662.2 1043.9,1663.7 1044.6,1661.7 1045.3,1663.5 1046.1,1661.9 1046.8,1661.8 1047.5,1663.0 1048.2,1662.1 1048.9,1662.7 1049.6,1663.3 1050.3,1662.4 1051.0,1663.1 1051.7,1663.6 1052.5,1662.2 1053.2,1663.5 1053.9,1661.9 1054.6,1663.5 1055.3,1663.2 1056.0,1662.2 1056.7,1662.1 1057.4,1663.1 1058.1,1662.6 1058.9,1661.9 1059.6,1663.3 1060.3,1663.3 1061.0,1663.7 1061.7,1662.4 1062.4,1662.4 1063.1,1663.7 1063.8,1662.4 1064.5,1663.3 1065.3,1662.8 1066.0,1662.7 1066.7,1662.7 1067.4,1662.7 1068.1,1663.1 1068.8,1662.4 1069.5,1663.5 1070.2,1662.0 1070.9,1663.1 1071.7,1662.2 1072.4,1662.6 1073.1,1662.9 1073.8,1662.9 1074.5,1662.8 1075.2,1663.0 1075.9,1662.7 1076.6,1662.9 1077.3,1662.1 1078.1,1663.4 1078.8,1662.3 1079.5,1663.0 1080.2,1662.1 1080.9,1662.1 1081.6,1663.8 1082.3,1661.9 1083.0,1662.2 1083.7,1662.5 1084.5,1663.5 1085.2,1662.1 1085.9,1662.6 1086.6,1663.4 1087.3,1662.5 1088.0,1663.7 1088.7,1662.4 1089.4,1663.5 1090.1,1663.3 1090.9,1663.9 1091.6,1663.1 1092.3,1662.4 1093.0,1662.0 1093.7,1662.4 1094.4,1662.6 1095.1,1662.9 1095.8,1662.0 1096.5,1660.5 1097.3,1659.8 1098.0,1659.6 1098.7,1662.2 1099.4,1661.8 1100.1,1660.8 1100.8,1660.1 1101.5,1662.0 1102.2,1661.8 1102.9,1659.1 1103.7,1658.5 1104.4,1660.6 1105.1,1659.3 1105.8,1659.6 1106.5,1659.6 1107.2,1661.0 1107.9,1659.6 1108.6,1662.4 1109.3,1662.1 1110.1,1661.2 1110.8,1662.5 1111.5,1661.1 1112.2,1661.4 1112.9,1661.7 1113.6,1661.8 1114.3,1662.5 1115.0,1663.5 1115.7,1663.2 1116.5,1663.9 1117.2,1663.1 1117.9,1662.5 1118.6,1662.4 1119.3,1662.4 1120.0,1663.4 1120.7,1661.9 1121.4,1662.7 1122.1,1663.5 1122.9,1661.9 1123.6,1662.5 1124.3,1662.4 1125.0,1662.6 1125.7,1663.9 1126.4,1662.7 1127.1,1662.4 1127.8,1662.5 1128.5,1663.5 1129.3,1662.9 1130.0,1662.3 1130.7,1662.0 1131.4,1663.4 1132.1,1662.7 1132.8,1663.8 1133.5,1663.5 1134.2,1663.1 1134.9,1663.9 1135.7,1663.2 1136.4,1662.0 1137.1,1663.3 1137.8,1663.6 1138.5,1663.7 1139.2,1662.7 1139.9,1663.1 1140.6,1662.6 1141.3,1663.1 1142.1,1662.8 1142.8,1663.0 1143.5,1663.3 1144.2,1663.9 1144.9,1663.3 1145.6,1662.3 1146.3,1663.2 1147.0,1662.2 1147.7,1663.8 1148.5,1662.4 1149.2,1662.1 1149.9,1663.4 1150.6,1663.1 1151.3,1663.4 1152.0,1663.0 1152.7,1661.9 1153.4,1662.4 1154.1,1663.7 1154.9,1661.8 1155.6,1662.4 1156.3,1662.2 1157.0,1662.1 1157.7,1661.9 1158.4,1662.2 1159.1,1663.3 1159.8,1662.3 1160.5,1662.5 1161.3,1663.0 1162.0,1662.0 1162.7,1663.9 1163.4,1662.8 1164.1,1662.0 1164.8,1662.8 1165.5,1663.1 1166.2,1663.7 1166.9,1663.5 1167.7,1663.4 1168.4,1661.8 1169.1,1662.7 1169.8,1663.3 1170.5,1662.0 1171.2,1662.6 1171.9,1663.3 1172.6,1662.5 1173.3,1663.9 1174.0,1662.8 1174.8,1662.8 1175.5,1663.8 1176.2,1662.5 1176.9,1663.9 1177.6,1663.5 1178.3,1662.3 1179.0,1663.1 1179.7,1662.4 1180.4,1662.8 1181.2,1662.9 1181.9,1662.6 1182.6,1663.9 1183.3,1663.9 1184.0,1661.9 1184.7,1662.4 1185.4,1663.5 1186.1,1662.4 1186.8,1661.9 1187.6,1662.1 1188.3,1662.5 1189.0,1662.8 1189.7,1662.6 1190.4,1663.5 1191.1,1663.0 1191.8,1662.0 1192.5,1663.1 1193.2,1663.3 1194.0,1662.8 1194.7,1662.2 1195.4,1662.0 1196.1,1661.7 1196.8,1661.8 1197.5,1663.7 1198.2,1662.9 1198.9,1662.7 1199.6,1662.4 1200.4,1663.7 1201.1,1663.1 1201.8,1663.1 1202.5,1662.6 1203.2,1663.1 1203.9,1663.2 1204.6,1663.5 1205.3,1662.5 1206.0,1663.3 1206.8,1663.5 1207.5,1661.9 1208.2,1663.1 1208.9,1663.3 1209.6,1663.7 1210.3,1662.8 1211.0,1663.2 1211.7,1662.7 1212.4,1663.3 1213.2,1662.9 1213.9,1663.7 1214.6,1663.8 1215.3,1661.9 1216.0,1662.3 1216.7,1663.0 1217.4,1662.7 1218.1,1660.3 1218.8,1659.5 1219.6,1658.3 1220.3,1655.5 1221.0,1657.7 1221.7,1653.2 1222.4,1655.3 1223.1,1650.4 1223.8,1649.2 1224.5,1652.6 1225.2,1650.9 1226.0,1644.9 1226.7,1642.6 1227.4,1650.1 1228.1,1643.1 1228.8,1647.1 1229.5,1633.7 1230.2,1641.2 1230.9,1638.4 1231.6,1636.9 1232.4,1627.0 1233.1,1633.3 1233.8,1628.9 1234.5,1616.7 1235.2,1625.1 1235.9,1611.0 1236.6,1608.8 1237.3,1619.6 1238.0,1624.3 1238.8,1601.6 1239.5,1611.2 1240.2,1615.9 1240.9,1624.1 1241.6,1608.9 1242.3,1622.3 1243.0,1599.5 1243.7,1606.3 1244.4,1608.4 1245.2,1609.5 1245.9,1586.0 1246.6,1577.8 1247.3,1613.7 1248.0,1589.3 1248.7,1607.7 1249.4,1608.2 1250.1,1561.7 1250.8,1591.8 1251.6,1579.1 1252.3,1558.3 1253.0,1566.5 1253.7,1577.9 1254.4,1552.8 1255.1,1542.5 1255.8,1545.9 1256.5,1558.2 1257.2,1528.0 1258.0,1550.4 1258.7,1549.8 1259.4,1554.4 1260.1,1500.7 1260.8,1564.0 1261.5,1568.0 1262.2,1548.1 1262.9,1558.0 1263.6,1534.5 1264.4,1481.5 1265.1,1475.4 1265.8,1544.4 1266.5,1544.5 1267.2,1542.1 1267.9,1508.5 1268.6,1563.1 1269.3,1534.7 1270.0,1548.9 1270.8,1540.4 1271.5,1580.6 1272.2,1549.2 1272.9,1551.5 1273.6,1587.1 1274.3,1566.4 1275.0,1581.2 1275.7,1607.3 1276.4,1606.8 1277.2,1621.0 1277.9,1611.5 1278.6,1636.2 1279.3,1622.0 1280.0,1634.3 1280.7,1620.4 1281.4,1622.0 1282.1,1622.7 1282.8,1632.7 1283.6,1621.9 1284.3,1623.4 1285.0,1629.5 1285.7,1610.3 1286.4,1607.1 1287.1,1612.0 1287.8,1591.6 1288.5,1602.3 1289.2,1607.7 1290.0,1611.0 1290.7,1614.4 1291.4,1615.1 1292.1,1626.6 1292.8,1645.3 1293.5,1637.2 1294.2,1636.6 1294.9,1641.2 1295.6,1642.7 1296.4,1643.3 1297.1,1647.3 1297.8,1646.7 1298.5,1643.6 1299.2,1643.8 1299.9,1643.9 1300.6,1645.2 1301.3,1640.4 1302.0,1649.3 1302.7,1649.4 1303.5,1640.4 1304.2,1644.9 1304.9,1644.8 1305.6,1646.6 1306.3,1647.1 1307.0,1648.0 1307.7,1645.8 1308.4,1642.4 1309.1,1651.6 1309.9,1641.0 1310.6,1649.9 1311.3,1646.4 1312.0,1642.4 1312.7,1650.6 1313.4,1644.4 1314.1,1645.0 1314.8,1645.6 1315.5,1642.3 1316.3,1650.6 1317.0,1649.5 1317.7,1641.4 1318.4,1640.9 1319.1,1650.7 1319.8,1644.2 1320.5,1651.0 1321.2,1644.0 1321.9,1646.9 1322.7,1651.8 1323.4,1655.8 1324.1,1654.8 1324.8,1655.4 1325.5,1653.9 1326.2,1653.9 1326.9,1653.8 1327.6,1654.1 1328.3,1657.9 1329.1,1658.0 1329.8,1655.2 1330.5,1656.2 1331.2,1653.8 1331.9,1659.2 1332.6,1657.3 1333.3,1654.7 1334.0,1657.2 1334.7,1659.0 1335.5,1658.0 1336.2,1654.6 1336.9,1655.7 1337.6,1655.4 1338.3,1658.6 1339.0,1655.8 1339.7,1660.1 1340.4,1659.1 1341.1,1657.0 1341.9,1657.0 1342.6,1658.1 1343.3,1655.6 1344.0,1658.7 1344.7,1659.2 1345.4,1659.6 1346.1,1657.1 1346.8,1656.8 1347.5,1656.9 1348.3,1657.9 1349.0,1660.8 1349.7,1659.1 1350.4,1660.3 1351.1,1660.3 1351.8,1661.9 1352.5,1660.1 1353.2,1662.2 1353.9,1661.9 1354.7,1661.7 1355.4,1663.9 1356.1,1664.4 1356.8,1664.5 1357.5,1664.7 1358.2,1664.0 1358.9,1664.1 1359.6,1664.0 1360.3,1663.5 1361.1,1664.0 1361.8,1664.0 1362.5,1663.6 1363.2,1663.7 1363.9,1664.2 1364.6,1664.1 1365.3,1664.4 1366.0,1664.2 1366.7,1664.3 1367.5,1664.2 1368.2,1664.6 1368.9,1664.1 1369.6,1664.6 1370.3,1664.5 1371.0,1664.5 1371.7,1663.9 1372.4,1664.9 1373.1,1663.7 1373.9,1664.8 1374.6,1664.2 1375.3,1664.7 1376.0,1664.1 1376.7,1663.9 1377.4,1664.5 1378.1,1664.4 1378.8,1663.8 1379.5,1664.3 1380.3,1664.6 1381.0,1664.8 1381.7,1664.0 1382.4,1664.2 1383.1,1664.7 1383.8,1664.4 1384.5,1664.9 1385.2,1664.1 1385.9,1664.0 1386.7,1664.2 1387.4,1664.2 1388.1,1665.0 1388.8,1664.0 1389.5,1664.4 1390.2,1664.1 1390.9,1664.2 1391.6,1664.1 1392.3,1664.2 1393.1,1664.3 1393.8,1664.5 1394.5,1664.8 1395.2,1664.9 1395.9,1664.1 1396.6,1664.3 1397.3,1664.9 1398.0,1665.1 1398.7,1664.2 1399.5,1665.2 1400.2,1664.5 1400.9,1664.4 1401.6,1664.8 1402.3,1664.2 1403.0,1664.5 1403.7,1664.2 1404.4,1664.5 1405.1,1664.7 1405.9,1665.2 1406.6,1664.3 1407.3,1665.1 1408.0,1665.0 1408.7,1664.6 1409.4,1664.5 1410.1,1664.3 1410.8,1664.2 1411.5,1664.3 1412.3,1664.4 1413.0,1664.9 1413.7,1664.5 1414.4,1665.1 1415.1,1664.9 1415.8,1664.2 1416.5,1664.6 1417.2,1664.3 1417.9,1665.1 1418.7,1664.6 1419.4,1665.1 1420.1,1664.5 1420.8,1664.3 1421.5,1664.8 1422.2,1665.3 1422.9,1664.9 1423.6,1665.2 1424.3,1664.8 1425.1,1664.4 1425.8,1664.3 1426.5,1665.0 1427.2,1665.1 1427.9,1665.3 1428.6,1665.0 1429.3,1665.0 1430.0,1665.1 1430.7,1664.4 1431.4,1665.0 1432.2,1665.1 1432.9,1665.1 1433.6,1664.5 1434.3,1664.9 1435.0,1664.9 1435.7,1664.6 1436.4,1664.7 1437.1,1664.8 1437.8,1664.7 1438.6,1665.0 1439.3,1664.9 1440.0,1664.6 1440.7,1665.3 1441.4,1664.9 1442.1,1664.9 1442.8,1665.0 1443.5,1664.8 1444.2,1664.6 1445.0,1664.6 1445.7,1664.5 1446.4,1664.7 1447.1,1665.3 1447.8,1665.1 1448.5,1664.6 1449.2,1665.2 1449.9,1664.7 1450.6,1665.3 1451.4,1664.5 1452.1,1665.2 1452.8,1664.9 1453.5,1665.2 1454.2,1665.2 1454.9,1664.9 1455.6,1664.8 1456.3,1664.5 1457.0,1665.1 1457.8,1664.4 1458.5,1665.1 1459.2,1664.9 1459.9,1664.4 1460.6,1664.8 1461.3,1665.1 1462.0,1664.9 1462.7,1664.5 1463.4,1664.5 1464.2,1665.2 1464.9,1664.8 1465.6,1665.0 1466.3,1665.3 1467.0,1664.9 1467.7,1665.1 1468.4,1664.6 1469.1,1665.3 1469.8,1664.9 1470.6,1665.0 1471.3,1664.9 1472.0,1664.9 1472.7,1664.4 1473.4,1664.7 1474.1,1665.0 1474.8,1665.0 1475.5,1664.9 1476.2,1664.4 1477.0,1664.8 1477.7,1664.4 1478.4,1665.2 1479.1,1664.9 1479.8,1664.7 1480.5,1664.6 1481.2,1665.3 1481.9,1665.0 1482.6,1664.5 1483.4,1664.8 1484.1,1665.2 1484.8,1665.0 1485.5,1664.9 1486.2,1665.4 1486.9,1665.0 1487.6,1664.9 1488.3,1664.4 1489.0,1664.9 1489.8,1664.9 1490.5,1665.3 1491.2,1665.4 1491.9,1664.9 1492.6,1664.8 1493.3,1665.2 1494.0,1664.8 1494.7,1665.3 1495.4,1665.1 1496.2,1664.9 1496.9,1665.1 1497.6,1665.0 1498.3,1664.7 1499.0,1665.2 1499.7,1664.8 1500.4,1664.5 1501.1,1664.6 1501.8,1665.1 1502.6,1664.8 1503.3,1665.3 1504.0,1664.7 1504.7,1664.7 1505.4,1665.2 1506.1,1665.1 1506.8,1664.8 1507.5,1664.8 1508.2,1664.8 1509.0,1664.7 1509.7,1664.6 1510.4,1665.0 1511.1,1665.4 1511.8,1664.7 1512.5,1665.3 1513.2,1664.9 1513.9,1664.8 1514.6,1664.7 1515.4,1664.9 1516.1,1664.8 1516.8,1664.5 1517.5,1664.7 1518.2,1665.2 1518.9,1664.6 1519.6,1664.8 1520.3,1665.2 1521.0,1665.2 1521.8,1665.0 1522.5,1665.0 1523.2,1664.7 1523.9,1665.0 1524.6,1664.8 1525.3,1665.1 1526.0,1665.0 1526.7,1665.2 1527.4,1665.1 1528.2,1664.8 1528.9,1665.2 1529.6,1665.0 1530.3,1664.8 1531.0,1665.5 1531.7,1665.1 1532.4,1664.7 1533.1,1664.9 1533.8,1664.7 1534.6,1665.2 1535.3,1664.9 1536.0,1665.2 1536.7,1665.4 1537.4,1664.7 1538.1,1665.2 1538.8,1664.8 1539.5,1664.8 1540.2,1664.7 1541.0,1665.2 1541.7,1664.7 1542.4,1665.3 1543.1,1664.9 1543.8,1665.5 1544.5,1664.8 1545.2,1665.4 1545.9,1664.8 1546.6,1664.9 1547.4,1665.4 1548.1,1665.0 1548.8,1664.8 1548.8,1666.6" fill="#0b6a0b" stroke="#0b6a0b" stroke-width="0.8" stroke-linejoin="round"/>
<line x1="986.3" x2="986.3" y1="1666.6" y2="1531.1" stroke="#0b6a0b" stroke-width="1.5"/><circle cx="986.3" cy="1531.1" r="3.0" fill="#0b6a0b"/>
<line x1="1265.1" x2="1265.1" y1="1666.6" y2="1470.8" stroke="#0b6a0b" stroke-width="1.5"/><circle cx="1265.1" cy="1470.8" r="3.0" fill="#0b6a0b"/>
<line x1="1289.2" x2="1289.2" y1="1666.6" y2="1566.7" stroke="#0b6a0b" stroke-width="1.5"/><circle cx="1289.2" cy="1566.7" r="3.0" fill="#0b6a0b"/>
<line x1="1312.0" x2="1312.0" y1="1666.6" y2="1637.5" stroke="#0b6a0b" stroke-width="1.5"/><circle cx="1312.0" cy="1637.5" r="3.0" fill="#0b6a0b"/>
<line x1="911.0" x2="911.0" y1="1666.6" y2="1654.1" stroke="#0b6a0b" stroke-width="1.5"/><circle cx="911.0" cy="1654.1" r="3.0" fill="#0b6a0b"/>
<line x1="936.6" x2="936.6" y1="1666.6" y2="1651.2" stroke="#0b6a0b" stroke-width="1.5"/><circle cx="936.6" cy="1651.2" r="3.0" fill="#0b6a0b"/>
<line x1="1138.5" x2="1138.5" y1="1666.6" y2="1645.6" stroke="#0b6a0b" stroke-width="1.5"/><circle cx="1138.5" cy="1645.6" r="3.0" fill="#0b6a0b"/>
<line x1="1102.9" x2="1102.9" y1="1666.6" y2="1660.1" stroke="#0b6a0b" stroke-width="1.5"/><circle cx="1102.9" cy="1660.1" r="3.0" fill="#0b6a0b"/>
<line x1="1410.1" x2="1410.1" y1="1666.6" y2="1663.4" stroke="#0b6a0b" stroke-width="1.5"/><circle cx="1410.1" cy="1663.4" r="3.0" fill="#0b6a0b"/>
<line x1="1475.5" x2="1475.5" y1="1666.6" y2="1664.2" stroke="#0b6a0b" stroke-width="1.5"/><circle cx="1475.5" cy="1664.2" r="3.0" fill="#0b6a0b"/>
<line x1="1521.0" x2="1521.0" y1="1666.6" y2="1664.6" stroke="#0b6a0b" stroke-width="1.5"/><circle cx="1521.0" cy="1664.6" r="3.0" fill="#0b6a0b"/>
<line x1="1545.2" x2="1545.2" y1="1666.6" y2="1665.0" stroke="#0b6a0b" stroke-width="1.5"/><circle cx="1545.2" cy="1665.0" r="3.0" fill="#0b6a0b"/>
<polygon points="841.3,1667.4 841.3,1657.8 842.0,1657.0 842.7,1660.2 843.4,1659.4 844.1,1659.7 844.8,1658.4 845.5,1660.5 846.3,1658.8 847.0,1660.2 847.7,1660.2 848.4,1657.5 849.1,1658.2 849.8,1656.9 850.5,1657.2 851.2,1656.0 851.9,1657.7 852.7,1660.0 853.4,1655.0 854.1,1659.2 854.8,1656.4 855.5,1659.7 856.2,1658.4 856.9,1659.6 857.6,1658.2 858.3,1660.9 859.1,1661.1 859.8,1659.6 860.5,1658.1 861.2,1659.8 861.9,1661.3 862.6,1658.1 863.3,1661.6 864.0,1661.0 864.7,1660.0 865.5,1661.1 866.2,1659.5 866.9,1660.6 867.6,1659.2 868.3,1661.8 869.0,1659.1 869.7,1658.8 870.4,1661.2 871.1,1661.3 871.9,1658.9 872.6,1660.6 873.3,1660.7 874.0,1660.0 874.7,1660.1 875.4,1659.2 876.1,1659.7 876.8,1659.6 877.5,1660.6 878.3,1660.3 879.0,1659.0 879.7,1659.0 880.4,1659.9 881.1,1660.0 881.8,1661.1 882.5,1660.4 883.2,1661.5 883.9,1660.4 884.7,1662.0 885.4,1661.2 886.1,1661.1 886.8,1660.5 887.5,1659.7 888.2,1661.8 888.9,1659.9 889.6,1659.4 890.3,1661.6 891.1,1661.7 891.8,1661.8 892.5,1659.9 893.2,1660.8 893.9,1662.1 894.6,1661.8 895.3,1660.9 896.0,1662.0 896.7,1659.4 897.5,1661.5 898.2,1659.3 898.9,1662.1 899.6,1661.0 900.3,1658.9 901.0,1661.7 901.7,1662.1 902.4,1659.2 903.1,1659.4 903.9,1660.5 904.6,1661.8 905.3,1661.2 906.0,1660.7 906.7,1658.8 907.4,1661.5 908.1,1659.9 908.8,1659.7 909.5,1659.2 910.3,1659.9 911.0,1660.9 911.7,1660.7 912.4,1660.6 913.1,1660.2 913.8,1660.4 914.5,1661.9 915.2,1659.5 915.9,1661.0 916.6,1660.1 917.4,1661.2 918.1,1660.7 918.8,1658.8 919.5,1662.2 920.2,1660.0 920.9,1661.6 921.6,1658.9 922.3,1659.4 923.0,1659.4 923.8,1659.4 924.5,1661.1 925.2,1660.5 925.9,1659.1 926.6,1660.7 927.3,1659.0 928.0,1659.5 928.7,1660.6 929.4,1660.5 930.2,1660.5 930.9,1661.4 931.6,1661.1 932.3,1660.9 933.0,1660.5 933.7,1659.3 934.4,1660.7 935.1,1660.4 935.8,1659.9 936.6,1659.6 937.3,1659.0 938.0,1659.8 938.7,1660.3 939.4,1659.9 940.1,1661.9 940.8,1659.8 941.5,1661.6 942.2,1659.3 943.0,1659.4 943.7,1660.2 944.4,1659.2 945.1,1662.2 945.8,1662.1 946.5,1660.7 947.2,1661.7 947.9,1662.3 948.6,1659.1 949.4,1661.0 950.1,1659.5 950.8,1661.4 951.5,1660.2 952.2,1662.2 952.9,1660.3 953.6,1660.0 954.3,1660.3 955.0,1660.8 955.8,1659.9 956.5,1661.7 957.2,1660.1 957.9,1661.5 958.6,1662.2 959.3,1661.2 960.0,1659.9 960.7,1661.9 961.4,1659.8 962.2,1661.2 962.9,1660.8 963.6,1662.2 964.3,1661.9 965.0,1660.2 965.7,1659.4 966.4,1661.6 967.1,1660.1 967.8,1659.5 968.6,1659.6 969.3,1659.3 970.0,1662.1 970.7,1660.2 971.4,1661.5 972.1,1662.3 972.8,1660.8 973.5,1659.3 974.2,1661.3 975.0,1661.6 975.7,1659.2 976.4,1660.2 977.1,1662.0 977.8,1662.4 978.5,1662.2 979.2,1662.2 979.9,1659.5 980.6,1660.1 981.4,1661.9 982.1,1661.0 982.8,1661.0 983.5,1659.6 984.2,1659.2 984.9,1662.4 985.6,1662.4 986.3,1660.4 987.0,1662.3 987.8,1661.0 988.5,1660.3 989.2,1660.7 989.9,1661.8 990.6,1661.5 991.3,1660.6 992.0,1661.9 992.7,1659.2 993.4,1661.5 994.2,1659.5 994.9,1661.7 995.6,1660.7 996.3,1659.6 997.0,1660.1 997.7,1661.9 998.4,1661.5 999.1,1661.1 999.8,1660.6 1000.6,1659.0 1001.3,1661.2 1002.0,1661.1 1002.7,1660.5 1003.4,1661.6 1004.1,1659.5 1004.8,1662.4 1005.5,1659.7 1006.2,1659.2 1007.0,1661.2 1007.7,1659.7 1008.4,1659.8 1009.1,1659.6 1009.8,1660.0 1010.5,1660.4 1011.2,1661.3 1011.9,1660.8 1012.6,1661.9 1013.4,1660.1 1014.1,1660.5 1014.8,1662.1 1015.5,1661.9 1016.2,1661.1 1016.9,1661.6 1017.6,1661.6 1018.3,1659.5 1019.0,1661.1 1019.8,1662.0 1020.5,1659.0 1021.2,1658.9 1021.9,1659.3 1022.6,1660.6 1023.3,1658.8 1024.0,1659.0 1024.7,1659.9 1025.4,1659.7 1026.2,1659.6 1026.9,1660.3 1027.6,1659.1 1028.3,1659.1 1029.0,1659.5 1029.7,1659.7 1030.4,1660.5 1031.1,1661.0 1031.8,1658.7 1032.6,1660.1 1033.3,1658.8 1034.0,1661.4 1034.7,1661.6 1035.4,1659.5 1036.1,1659.8 1036.8,1660.7 1037.5,1660.3 1038.2,1658.8 1039.0,1659.7 1039.7,1660.1 1040.4,1661.1 1041.1,1661.5 1041.8,1660.8 1042.5,1661.0 1043.2,1659.5 1043.9,1658.5 1044.6,1659.0 1045.3,1661.1 1046.1,1661.0 1046.8,1659.9 1047.5,1659.0 1048.2,1661.0 1048.9,1661.1 1049.6,1660.2 1050.3,1658.9 1051.0,1659.9 1051.7,1661.6 1052.5,1658.7 1053.2,1657.6 1053.9,1658.3 1054.6,1661.0 1055.3,1659.8 1056.0,1658.5 1056.7,1658.5 1057.4,1660.3 1058.1,1659.2 1058.9,1658.4 1059.6,1657.2 1060.3,1653.7 1061.0,1654.4 1061.7,1654.9 1062.4,1658.9 1063.1,1659.2 1063.8,1655.7 1064.5,1657.6 1065.3,1657.4 1066.0,1660.3 1066.7,1656.7 1067.4,1659.0 1068.1,1659.1 1068.8,1658.9 1069.5,1659.5 1070.2,1659.2 1070.9,1661.3 1071.7,1661.9 1072.4,1660.5 1073.1,1659.2 1073.8,1659.3 1074.5,1660.6 1075.2,1659.3 1075.9,1659.2 1076.6,1659.1 1077.3,1658.5 1078.1,1660.3 1078.8,1659.3 1079.5,1658.6 1080.2,1660.9 1080.9,1658.3 1081.6,1660.7 1082.3,1659.5 1083.0,1661.5 1083.7,1661.3 1084.5,1661.6 1085.2,1659.6 1085.9,1661.9 1086.6,1660.1 1087.3,1659.1 1088.0,1660.9 1088.7,1661.2 1089.4,1658.3 1090.1,1661.2 1090.9,1659.7 1091.6,1660.1 1092.3,1658.4 1093.0,1659.5 1093.7,1660.1 1094.4,1660.9 1095.1,1658.7 1095.8,1660.7 1096.5,1658.7 1097.3,1659.2 1098.0,1659.7 1098.7,1658.0 1099.4,1659.4 1100.1,1659.5 1100.8,1659.1 1101.5,1661.2 1102.2,1660.1 1102.9,1661.8 1103.7,1661.3 1104.4,1661.7 1105.1,1659.6 1105.8,1660.5 1106.5,1661.1 1107.2,1660.2 1107.9,1658.0 1108.6,1661.6 1109.3,1661.3 1110.1,1658.3 1110.8,1660.9 1111.5,1659.1 1112.2,1661.4 1112.9,1661.6 1113.6,1659.3 1114.3,1658.8 1115.0,1660.9 1115.7,1659.9 1116.5,1661.1 1117.2,1658.4 1117.9,1661.2 1118.6,1659.4 1119.3,1657.9 1120.0,1660.8 1120.7,1658.7 1121.4,1659.6 1122.1,1658.1 1122.9,1658.0 1123.6,1659.5 1124.3,1659.5 1125.0,1658.2 1125.7,1658.4 1126.4,1660.0 1127.1,1657.3 1127.8,1659.2 1128.5,1660.2 1129.3,1659.5 1130.0,1659.5 1130.7,1659.0 1131.4,1659.6 1132.1,1659.1 1132.8,1656.7 1133.5,1656.6 1134.2,1659.9 1134.9,1659.6 1135.7,1659.2 1136.4,1659.9 1137.1,1659.9 1137.8,1658.6 1138.5,1658.9 1139.2,1660.4 1139.9,1658.3 1140.6,1658.5 1141.3,1656.1 1142.1,1656.5 1142.8,1657.5 1143.5,1658.0 1144.2,1660.0 1144.9,1657.3 1145.6,1655.9 1146.3,1655.6 1147.0,1655.8 1147.7,1656.7 1148.5,1658.6 1149.2,1659.4 1149.9,1659.2 1150.6,1658.2 1151.3,1659.6 1152.0,1658.6 1152.7,1655.1 1153.4,1656.2 1154.1,1656.4 1154.9,1659.2 1155.6,1657.3 1156.3,1657.3 1157.0,1654.8 1157.7,1656.0 1158.4,1658.0 1159.1,1658.1 1159.8,1658.9 1160.5,1656.5 1161.3,1655.6 1162.0,1656.9 1162.7,1653.5 1163.4,1654.4 1164.1,1655.6 1164.8,1656.4 1165.5,1654.6 1166.2,1654.3 1166.9,1653.8 1167.7,1656.5 1168.4,1655.8 1169.1,1656.8 1169.8,1657.3 1170.5,1656.1 1171.2,1656.3 1171.9,1656.0 1172.6,1654.5 1173.3,1655.1 1174.0,1652.4 1174.8,1655.8 1175.5,1652.3 1176.2,1650.8 1176.9,1653.6 1177.6,1651.0 1178.3,1656.4 1179.0,1654.7 1179.7,1655.9 1180.4,1652.2 1181.2,1652.9 1181.9,1651.8 1182.6,1653.7 1183.3,1655.2 1184.0,1648.3 1184.7,1646.3 1185.4,1653.1 1186.1,1647.6 1186.8,1651.1 1187.6,1646.9 1188.3,1648.0 1189.0,1646.1 1189.7,1643.3 1190.4,1650.5 1191.1,1643.7 1191.8,1650.3 1192.5,1642.6 1193.2,1649.5 1194.0,1648.3 1194.7,1644.5 1195.4,1646.7 1196.1,1637.4 1196.8,1647.8 1197.5,1642.4 1198.2,1638.1 1198.9,1634.0 1199.6,1630.7 1200.4,1637.5 1201.1,1642.9 1201.8,1642.0 1202.5,1635.1 1203.2,1642.8 1203.9,1630.2 1204.6,1631.2 1205.3,1634.0 1206.0,1630.8 1206.8,1640.0 1207.5,1632.8 1208.2,1645.2 1208.9,1644.9 1209.6,1641.6 1210.3,1637.3 1211.0,1649.9 1211.7,1639.1 1212.4,1646.0 1213.2,1640.4 1213.9,1641.2 1214.6,1641.5 1215.3,1646.0 1216.0,1651.5 1216.7,1650.0 1217.4,1650.0 1218.1,1647.5 1218.8,1651.2 1219.6,1650.2 1220.3,1652.0 1221.0,1650.2 1221.7,1654.9 1222.4,1653.4 1223.1,1650.1 1223.8,1655.2 1224.5,1653.8 1225.2,1651.6 1226.0,1652.3 1226.7,1654.0 1227.4,1657.0 1228.1,1651.1 1228.8,1650.8 1229.5,1651.8 1230.2,1652.0 1230.9,1651.2 1231.6,1651.3 1232.4,1654.2 1233.1,1654.9 1233.8,1654.4 1234.5,1656.8 1235.2,1656.4 1235.9,1652.9 1236.6,1652.6 1237.3,1652.9 1238.0,1653.8 1238.8,1656.8 1239.5,1655.3 1240.2,1651.3 1240.9,1651.3 1241.6,1655.5 1242.3,1654.5 1243.0,1655.6 1243.7,1653.8 1244.4,1652.6 1245.2,1653.6 1245.9,1647.6 1246.6,1654.6 1247.3,1651.5 1248.0,1655.1 1248.7,1652.7 1249.4,1649.4 1250.1,1655.3 1250.8,1651.5 1251.6,1651.8 1252.3,1652.1 1253.0,1652.9 1253.7,1652.2 1254.4,1655.2 1255.1,1655.4 1255.8,1651.6 1256.5,1656.1 1257.2,1651.3 1258.0,1650.8 1258.7,1653.3 1259.4,1655.5 1260.1,1654.4 1260.8,1653.9 1261.5,1652.6 1262.2,1650.9 1262.9,1654.6 1263.6,1656.3 1264.4,1655.6 1265.1,1651.0 1265.8,1656.3 1266.5,1656.1 1267.2,1657.7 1267.9,1653.6 1268.6,1654.6 1269.3,1652.2 1270.0,1653.3 1270.8,1653.1 1271.5,1652.7 1272.2,1654.2 1272.9,1655.3 1273.6,1657.2 1274.3,1654.3 1275.0,1657.1 1275.7,1655.4 1276.4,1654.0 1277.2,1652.7 1277.9,1653.7 1278.6,1654.9 1279.3,1650.4 1280.0,1653.8 1280.7,1653.4 1281.4,1654.0 1282.1,1654.9 1282.8,1648.0 1283.6,1650.2 1284.3,1648.6 1285.0,1644.7 1285.7,1643.8 1286.4,1646.5 1287.1,1641.6 1287.8,1645.7 1288.5,1640.9 1289.2,1645.3 1290.0,1648.5 1290.7,1646.4 1291.4,1651.0 1292.1,1649.2 1292.8,1651.4 1293.5,1649.8 1294.2,1653.9 1294.9,1651.3 1295.6,1650.8 1296.4,1648.1 1297.1,1648.3 1297.8,1651.3 1298.5,1653.1 1299.2,1651.0 1299.9,1649.9 1300.6,1651.9 1301.3,1655.9 1302.0,1652.9 1302.7,1654.0 1303.5,1651.1 1304.2,1653.2 1304.9,1651.2 1305.6,1657.9 1306.3,1653.6 1307.0,1657.0 1307.7,1655.5 1308.4,1653.3 1309.1,1652.6 1309.9,1657.6 1310.6,1653.9 1311.3,1658.5 1312.0,1657.6 1312.7,1658.3 1313.4,1654.1 1314.1,1659.1 1314.8,1655.4 1315.5,1657.1 1316.3,1656.2 1317.0,1659.7 1317.7,1657.9 1318.4,1657.5 1319.1,1659.0 1319.8,1657.3 1320.5,1660.3 1321.2,1660.4 1321.9,1657.8 1322.7,1659.8 1323.4,1657.2 1324.1,1658.7 1324.8,1657.4 1325.5,1657.8 1326.2,1658.5 1326.9,1657.6 1327.6,1660.7 1328.3,1659.6 1329.1,1661.4 1329.8,1659.3 1330.5,1659.1 1331.2,1659.0 1331.9,1660.4 1332.6,1659.2 1333.3,1661.2 1334.0,1661.4 1334.7,1660.2 1335.5,1659.6 1336.2,1662.4 1336.9,1661.1 1337.6,1661.3 1338.3,1662.7 1339.0,1662.5 1339.7,1660.4 1340.4,1660.1 1341.1,1661.3 1341.9,1662.3 1342.6,1660.2 1343.3,1661.9 1344.0,1662.7 1344.7,1660.9 1345.4,1661.3 1346.1,1661.3 1346.8,1662.2 1347.5,1662.6 1348.3,1662.8 1349.0,1661.8 1349.7,1662.6 1350.4,1661.6 1351.1,1661.2 1351.8,1661.5 1352.5,1663.5 1353.2,1662.1 1353.9,1663.6 1354.7,1663.0 1355.4,1663.1 1356.1,1662.6 1356.8,1663.8 1357.5,1663.4 1358.2,1661.9 1358.9,1663.9 1359.6,1663.3 1360.3,1663.0 1361.1,1663.9 1361.8,1663.6 1362.5,1662.9 1363.2,1663.5 1363.9,1663.1 1364.6,1662.4 1365.3,1664.0 1366.0,1663.0 1366.7,1664.2 1367.5,1663.5 1368.2,1662.9 1368.9,1662.5 1369.6,1663.5 1370.3,1663.2 1371.0,1663.5 1371.7,1664.2 1372.4,1664.2 1373.1,1663.4 1373.9,1662.9 1374.6,1664.0 1375.3,1663.2 1376.0,1663.4 1376.7,1663.9 1377.4,1663.4 1378.1,1664.4 1378.8,1664.1 1379.5,1663.9 1380.3,1663.5 1381.0,1664.5 1381.7,1664.6 1382.4,1663.2 1383.1,1663.8 1383.8,1663.3 1384.5,1663.1 1385.2,1664.4 1385.9,1664.1 1386.7,1663.2 1387.4,1664.7 1388.1,1663.3 1388.8,1663.3 1389.5,1663.7 1390.2,1664.3 1390.9,1663.9 1391.6,1664.8 1392.3,1664.4 1393.1,1664.8 1393.8,1664.3 1394.5,1664.0 1395.2,1664.9 1395.9,1663.8 1396.6,1664.9 1397.3,1664.7 1398.0,1664.5 1398.7,1664.9 1399.5,1664.1 1400.2,1664.2 1400.9,1664.3 1401.6,1664.6 1402.3,1664.4 1403.0,1664.7 1403.7,1664.4 1404.4,1664.1 1405.1,1664.3 1405.9,1664.7 1406.6,1664.1 1407.3,1664.8 1408.0,1664.4 1408.7,1664.3 1409.4,1664.7 1410.1,1664.2 1410.8,1664.1 1411.5,1665.0 1412.3,1665.1 1413.0,1664.9 1413.7,1665.2 1414.4,1664.1 1415.1,1664.9 1415.8,1665.0 1416.5,1664.5 1417.2,1664.1 1417.9,1664.2 1418.7,1664.2 1419.4,1665.0 1420.1,1664.9 1420.8,1665.1 1421.5,1664.4 1422.2,1664.8 1422.9,1664.5 1423.6,1665.2 1424.3,1664.4 1425.1,1665.1 1425.8,1664.1 1426.5,1664.9 1427.2,1664.7 1427.9,1664.3 1428.6,1664.5 1429.3,1665.1 1430.0,1664.2 1430.7,1664.4 1431.4,1664.4 1432.2,1664.7 1432.9,1665.1 1433.6,1664.5 1434.3,1664.9 1435.0,1664.3 1435.7,1664.9 1436.4,1664.5 1437.1,1664.7 1437.8,1665.1 1438.6,1664.5 1439.3,1664.2 1440.0,1665.2 1440.7,1664.6 1441.4,1664.6 1442.1,1664.4 1442.8,1664.9 1443.5,1664.4 1444.2,1664.5 1445.0,1665.1 1445.7,1664.5 1446.4,1664.8 1447.1,1665.1 1447.8,1665.0 1448.5,1664.9 1449.2,1664.5 1449.9,1665.1 1450.6,1664.6 1451.4,1664.4 1452.1,1664.8 1452.8,1664.3 1453.5,1664.5 1454.2,1664.8 1454.9,1664.3 1455.6,1664.7 1456.3,1665.2 1457.0,1665.1 1457.8,1664.5 1458.5,1664.4 1459.2,1664.9 1459.9,1664.9 1460.6,1665.1 1461.3,1664.4 1462.0,1664.3 1462.7,1664.4 1463.4,1664.9 1464.2,1664.4 1464.9,1665.1 1465.6,1665.3 1466.3,1664.8 1467.0,1665.0 1467.7,1664.9 1468.4,1665.3 1469.1,1665.2 1469.8,1664.9 1470.6,1664.8 1471.3,1664.6 1472.0,1664.6 1472.7,1665.0 1473.4,1664.9 1474.1,1665.1 1474.8,1665.2 1475.5,1665.0 1476.2,1664.8 1477.0,1664.4 1477.7,1664.6 1478.4,1664.6 1479.1,1664.6 1479.8,1664.5 1480.5,1664.5 1481.2,1665.2 1481.9,1665.1 1482.6,1665.1 1483.4,1664.6 1484.1,1664.9 1484.8,1664.5 1485.5,1664.8 1486.2,1665.4 1486.9,1665.2 1487.6,1665.0 1488.3,1665.3 1489.0,1664.9 1489.8,1665.4 1490.5,1665.2 1491.2,1665.4 1491.9,1665.3 1492.6,1664.7 1493.3,1664.9 1494.0,1664.5 1494.7,1665.3 1495.4,1665.2 1496.2,1665.4 1496.9,1665.2 1497.6,1665.2 1498.3,1665.0 1499.0,1665.2 1499.7,1665.3 1500.4,1665.1 1501.1,1665.4 1501.8,1664.7 1502.6,1664.9 1503.3,1665.0 1504.0,1665.0 1504.7,1664.9 1505.4,1664.5 1506.1,1665.1 1506.8,1664.9 1507.5,1665.3 1508.2,1665.1 1509.0,1665.4 1509.7,1664.7 1510.4,1664.8 1511.1,1664.8 1511.8,1664.8 1512.5,1665.4 1513.2,1664.9 1513.9,1665.3 1514.6,1664.9 1515.4,1665.4 1516.1,1665.3 1516.8,1665.4 1517.5,1665.0 1518.2,1665.4 1518.9,1665.2 1519.6,1665.1 1520.3,1664.6 1521.0,1664.8 1521.8,1665.0 1522.5,1664.8 1523.2,1665.5 1523.9,1665.2 1524.6,1665.3 1525.3,1664.9 1526.0,1665.4 1526.7,1664.7 1527.4,1665.2 1528.2,1664.7 1528.9,1664.8 1529.6,1665.1 1530.3,1665.5 1531.0,1665.4 1531.7,1665.2 1532.4,1664.9 1533.1,1665.1 1533.8,1664.7 1534.6,1664.8 1535.3,1665.3 1536.0,1664.7 1536.7,1665.1 1537.4,1665.5 1538.1,1665.5 1538.8,1665.2 1539.5,1665.2 1540.2,1665.4 1541.0,1664.8 1541.7,1665.3 1542.4,1664.9 1543.1,1665.4 1543.8,1665.2 1544.5,1665.2 1545.2,1664.9 1545.9,1665.3 1546.6,1665.4 1547.4,1664.9 1548.1,1665.0 1548.8,1665.4 1548.8,1667.4" fill="#ffa500" stroke="#ffa500" stroke-width="0.8" stroke-linejoin="round"/>
<line x1="1203.9" x2="1203.9" y1="1666.6" y2="1616.0" stroke="#ffa500" stroke-width="1.5"/><circle cx="1203.9" cy="1616.0" r="3.0" fill="#ffa500"/>
<line x1="1061.7" x2="1061.7" y1="1666.6" y2="1621.7" stroke="#ffa500" stroke-width="1.5"/><circle cx="1061.7" cy="1621.7" r="3.0" fill="#ffa500"/>
<line x1="986.3" x2="986.3" y1="1666.6" y2="1639.5" stroke="#ffa500" stroke-width="1.5"/><circle cx="986.3" cy="1639.5" r="3.0" fill="#ffa500"/>
<line x1="1138.5" x2="1138.5" y1="1666.6" y2="1641.5" stroke="#ffa500" stroke-width="1.5"/><circle cx="1138.5" cy="1641.5" r="3.0" fill="#ffa500"/>
<line x1="1246.6" x2="1246.6" y1="1666.6" y2="1639.1" stroke="#ffa500" stroke-width="1.5"/><circle cx="1246.6" cy="1639.1" r="3.0" fill="#ffa500"/>
<line x1="1289.2" x2="1289.2" y1="1666.6" y2="1635.5" stroke="#ffa500" stroke-width="1.5"/><circle cx="1289.2" cy="1635.5" r="3.0" fill="#ffa500"/>
<line x1="1320.5" x2="1320.5" y1="1666.6" y2="1654.1" stroke="#ffa500" stroke-width="1.5"/><circle cx="1320.5" cy="1654.1" r="3.0" fill="#ffa500"/>
<line x1="1360.3" x2="1360.3" y1="1666.6" y2="1661.3" stroke="#ffa500" stroke-width="1.5"/><circle cx="1360.3" cy="1661.3" r="3.0" fill="#ffa500"/>
<line x1="852.7" x2="852.7" y1="1666.6" y2="1656.1" stroke="#ffa500" stroke-width="1.5"/><circle cx="852.7" cy="1656.1" r="3.0" fill="#ffa500"/>
<line x1="911.0" x2="911.0" y1="1666.6" y2="1659.3" stroke="#ffa500" stroke-width="1.5"/><circle cx="911.0" cy="1659.3" r="3.0" fill="#ffa500"/>
<line x1="950.8" x2="950.8" y1="1666.6" y2="1660.5" stroke="#ffa500" stroke-width="1.5"/><circle cx="950.8" cy="1660.5" r="3.0" fill="#ffa500"/>
<line x1="1009.1" x2="1009.1" y1="1666.6" y2="1660.1" stroke="#ffa500" stroke-width="1.5"/><circle cx="1009.1" cy="1660.1" r="3.0" fill="#ffa500"/>
<line x1="1407.3" x2="1407.3" y1="1666.6" y2="1665.0" stroke="#ffa500" stroke-width="1.5"/><circle cx="1407.3" cy="1665.0" r="3.0" fill="#ffa500"/>
<line x1="1441.4" x2="1441.4" y1="1666.6" y2="1663.0" stroke="#ffa500" stroke-width="1.5"/><circle cx="1441.4" cy="1663.0" r="3.0" fill="#ffa500"/>
<line x1="1501.1" x2="1501.1" y1="1666.6" y2="1665.8" stroke="#ffa500" stroke-width="1.5"/><circle cx="1501.1" cy="1665.8" r="3.0" fill="#ffa500"/>
<line x1="1536.7" x2="1536.7" y1="1666.6" y2="1665.8" stroke="#ffa500" stroke-width="1.5"/><circle cx="1536.7" cy="1665.8" r="3.0" fill="#ffa500"/>
<text x="1271.6" y="1470.4" font-size="5.5" fill="#0b6a0b" opacity="1">302Hz, 179,0.04840</text>
<text x="992.8" y="1530.7" font-size="5.5" fill="#0b6a0b" opacity="1">106Hz, 163,0.03349</text>
<text x="1295.7" y="1566.3" font-size="5.5" fill="#0b6a0b" opacity="1">319Hz, -108,0.02468</text>
<text x="1318.5" y="1637.1" font-size="5.5" fill="#0b6a0b" opacity="1">335Hz, 45,0.00724</text>
<text x="917.5" y="1653.7" font-size="5.5" fill="#0b6a0b" opacity="1">53Hz, 104,0.00296</text>
<text x="943.1" y="1650.8" font-size="5.5" fill="#0b6a0b" opacity="1">71Hz, -71,0.00362</text>
<text x="1145.0" y="1645.2" font-size="5.5" fill="#0b6a0b" opacity="1">213Hz, 15,0.00514</text>
<text x="1069.6" y="1657.3" font-size="5.5" fill="#0b6a0b" opacity="1">160Hz, 123,0.00213</text>
<text x="1210.4" y="1615.6" font-size="5.5" fill="#ffa500" opacity="1">259Hz, 153,0.01252</text>
<text x="1068.2" y="1621.3" font-size="5.5" fill="#ffa500" opacity="1">159Hz, 11,0.01108</text>
<text x="992.8" y="1639.1" font-size="5.5" fill="#ffa500" opacity="1">106Hz, -146,0.00662</text>
<text x="1145.0" y="1641.1" font-size="5.5" fill="#ffa500" opacity="1">213Hz, 46,0.00621</text>
<text x="1253.1" y="1638.7" font-size="5.5" fill="#ffa500" opacity="1">289Hz, -173,0.00683</text>
<text x="1295.7" y="1635.1" font-size="5.5" fill="#ffa500" opacity="1">319Hz, 144,0.00768</text>
<text x="1327.0" y="1653.7" font-size="5.5" fill="#ffa500" opacity="1">341Hz, 149,0.00306</text>
<text x="1366.8" y="1660.9" font-size="5.5" fill="#ffa500" opacity="1">369Hz, -31,0.00130</text>
<text x="859.2" y="1655.7" font-size="5.5" fill="#ffa500" opacity="1">13Hz, 13,0.00262</text>
<text x="1015.6" y="1659.7" font-size="5.5" fill="#ffa500" opacity="1">122Hz, -79,0.00155</text>
<text x="1447.9" y="1662.6" font-size="5.5" fill="#ffa500" opacity="1">426Hz, 56,0.00092</text>
<text x="1484" y="1665.4" font-size="5.5" fill="#0b6a0b">143,0.00042</text>
<line x1="1547.7" x2="1559" y1="1665.8" y2="1665.8" stroke="#ffa500" stroke-width="3" opacity=".8"/>
<rect x="841.5" y="1253.5" width="706.0" height="421.1" fill="none" stroke="#3a3a3a" stroke-width="1"/>
<line x1="841.0" x2="1547.7" y1="1464.0" y2="1464.0" stroke="#555" stroke-width="1.5"/>
<text x="836" y="1457.2" font-size="7.6" text-anchor="end" fill="#222">0.00</text>
<text x="836" y="1425.8" font-size="7.6" text-anchor="end" fill="#222">0.05</text>
<text x="836" y="1394.4" font-size="7.6" text-anchor="end" fill="#222">0.10</text>
<text x="836" y="1363.0" font-size="7.6" text-anchor="end" fill="#222">0.15</text>
<text x="836" y="1331.6" font-size="7.6" text-anchor="end" fill="#222">0.20</text>
<text x="836" y="1300.2" font-size="7.6" text-anchor="end" fill="#222">0.25</text>
<text x="836" y="1268.8" font-size="7.6" text-anchor="end" fill="#222">0.30</text>
<text x="836" y="1669.4" font-size="7.6" text-anchor="end" fill="#222">0.00</text>
<text x="836" y="1628.9" font-size="7.6" text-anchor="end" fill="#222">0.01</text>
<text x="836" y="1588.5" font-size="7.6" text-anchor="end" fill="#222">0.02</text>
<text x="836" y="1548.0" font-size="7.6" text-anchor="end" fill="#222">0.03</text>
<text x="836" y="1507.6" font-size="7.6" text-anchor="end" fill="#222">0.04</text>
<text x="836" y="1467.9" font-size="7.6" text-anchor="end" fill="#222">0.05</text>
<text x="977.8" y="1686.8" font-size="7.6" text-anchor="middle" fill="#222">100</text>
<text x="1120.0" y="1686.8" font-size="7.6" text-anchor="middle" fill="#222">200</text>
<text x="1262.2" y="1686.8" font-size="7.6" text-anchor="middle" fill="#222">300</text>
<text x="1404.4" y="1686.8" font-size="7.6" text-anchor="middle" fill="#222">400</text>
<text x="1546.6" y="1686.8" font-size="7.6" text-anchor="middle" fill="#222">500</text>
<path d="M837.5 1454.4H841.0M837.5 1423.0H841.0M837.5 1391.6H841.0M837.5 1360.2H841.0M837.5 1328.8H841.0M837.5 1297.4H841.0M837.5 1266.0H841.0M837.5 1666.6H841.0M837.5 1626.1H841.0M837.5 1585.7H841.0M837.5 1545.2H841.0M837.5 1504.8H841.0M837.5 1464.3H841.0M977.8 1674.8V1678.3M1120.0 1674.8V1678.3M1262.2 1674.8V1678.3M1404.4 1674.8V1678.3M1546.6 1674.8V1678.3" stroke="#333" stroke-width="1" fill="none"/>
<text x="1182.7" y="1727" font-size="12.6" text-anchor="middle" fill="#111" textLength="95" lengthAdjust="spacingAndGlyphs">Frequency (Hz)</text>
<text transform="translate(754.5 1463.5) rotate(-90)" font-size="12.6" text-anchor="middle" fill="#111" textLength="123" lengthAdjust="spacingAndGlyphs">Amplitude (kgf/Nm)</text>
<text x="1193" y="1232.8" font-size="26.5" text-anchor="middle" fill="#111" font-family="'Liberation Sans',Arial,sans-serif" textLength="612" lengthAdjust="spacingAndGlyphs">Thrust and Torque Vibration at Various Frequencies</text>
<text x="1590.8" y="1322.9" font-size="16.5" font-weight="700" fill="#111" stroke="#111" stroke-width="0.45" font-family="'Liberation Sans',Arial,sans-serif" text-decoration="underline" textLength="48.9" lengthAdjust="spacingAndGlyphs">Thrust</text><circle cx="1581.6" cy="1344.0" r="3.7" fill="#ff3030"/><text x="1590.8" y="1348.3" font-size="14.2" fill="#111" stroke="#111" stroke-width="0.3" font-family="'Liberation Sans',Arial,sans-serif" textLength="74" lengthAdjust="spacingAndGlyphs">Flight Stand</text><circle cx="1581.6" cy="1363.1" r="3.7" fill="#4a6cf7"/><text x="1590.8" y="1367.7" font-size="14.2" fill="#111" stroke="#111" stroke-width="0.3" font-family="'Liberation Sans',Arial,sans-serif" textLength="79" lengthAdjust="spacingAndGlyphs">Thrust Stand</text><text x="1590.8" y="1386.2" font-size="14.2" fill="#111" stroke="#111" stroke-width="0.3" font-family="'Liberation Sans',Arial,sans-serif" textLength="84.3" lengthAdjust="spacingAndGlyphs">with Bearings</text>
<text x="1587.7" y="1546.1" font-size="16.5" font-weight="700" fill="#111" stroke="#111" stroke-width="0.45" font-family="'Liberation Sans',Arial,sans-serif" text-decoration="underline" textLength="53.8" lengthAdjust="spacingAndGlyphs">Torque</text><circle cx="1577.3" cy="1567.2" r="3.7" fill="#f5a623"/><text x="1587.7" y="1571.5" font-size="14.2" fill="#111" stroke="#111" stroke-width="0.3" font-family="'Liberation Sans',Arial,sans-serif" textLength="74" lengthAdjust="spacingAndGlyphs">Flight Stand</text><circle cx="1577.3" cy="1586.3" r="3.7" fill="#2e7d32"/><text x="1587.7" y="1590.9" font-size="14.2" fill="#111" stroke="#111" stroke-width="0.3" font-family="'Liberation Sans',Arial,sans-serif" textLength="79" lengthAdjust="spacingAndGlyphs">Thrust Stand</text><text x="1587.7" y="1609.4" font-size="14.2" fill="#111" stroke="#111" stroke-width="0.3" font-family="'Liberation Sans',Arial,sans-serif" textLength="84.3" lengthAdjust="spacingAndGlyphs">with Bearings</text>
</svg></figure>
</section>
<section>
<h2><span class="ln" style="left:92.6px;top:1809px;font-size:52px;transform:scaleX(0.9903);">Hysteresis</span></h2>
<ul>
<li><i class="dot" style="left:90.2px;top:1895.5px;width:9.3px;height:9.3px"></i>
<span class="ln" style="left:111.6px;top:1885px;font-size:30.3px;transform:scaleX(0.9829);">We performed a step test to observe the hysteresis of each</span>
<span class="ln" style="left:111.0px;top:1926px;font-size:30.3px;transform:scaleX(0.9838);">system once the load (a spinning propeller) was removed.</span>
</li>
<li><i class="dot" style="left:90.2px;top:1986.5px;width:9.3px;height:9.3px"></i>
<span class="ln" style="left:111.6px;top:1976px;font-size:30.3px;transform:scaleX(0.9767);">When the throttle returned to zero, the Flight Stand measured</span>
<span class="ln" style="left:111.0px;top:2018px;font-size:30.3px;transform:scaleX(0.9894);">0 gf while the thrust stand with bearings measured &gt;40 gf.</span>
</li>
<li><i class="dot" style="left:90.2px;top:2081.5px;width:9.3px;height:9.3px"></i>
<span class="ln" style="left:110.2px;top:2071px;font-size:30.3px;transform:scaleX(0.9950);">Linear bearings introduce friction between the force application</span>
<span class="ln" style="left:110.2px;top:2113px;font-size:30.3px;transform:scaleX(0.9840);">point (motor) and the load cell. The heavier the powertrain, the</span>
<span class="ln" style="left:110.6px;top:2154px;font-size:30.3px;transform:scaleX(0.9867);">higher the error, which carries into subsequent measurements.</span>
</li>
</ul>
<figure style="margin:0"><svg class="chart" style="left:985px;top:1794px" width="711" height="435" viewBox="985 1794 711 435" font-family="'Liberation Sans',Arial,sans-serif">
<rect x="991" y="1800" width="697.4" height="421.5" fill="#fff" stroke="#686868" stroke-width="1.5"/>
<line x1="1087.5" x2="1667.0" y1="2127.0" y2="2127.0" stroke="#ccc" stroke-width="1.6"/>
<line x1="1087.5" x2="1667.0" y1="2075.4" y2="2075.4" stroke="#ccc" stroke-width="1.6"/>
<line x1="1087.5" x2="1667.0" y1="2049.7" y2="2049.7" stroke="#ccc" stroke-width="1.6"/>
<line x1="1087.5" x2="1667.0" y1="2023.9" y2="2023.9" stroke="#ccc" stroke-width="1.6"/>
<line x1="1087.5" x2="1667.0" y1="1998.2" y2="1998.2" stroke="#ccc" stroke-width="1.6"/>
<line x1="1087.5" x2="1667.0" y1="1972.4" y2="1972.4" stroke="#ccc" stroke-width="1.6"/>
<line x1="1087.5" x2="1667.0" y1="1946.6" y2="1946.6" stroke="#ccc" stroke-width="1.6"/>
<line x1="1087.5" x2="1667.0" y1="1920.9" y2="1920.9" stroke="#ccc" stroke-width="1.6"/>
<line x1="1087.5" x2="1667.0" y1="1895.1" y2="1895.1" stroke="#ccc" stroke-width="1.6"/>
<line x1="1087.5" x2="1667.0" y1="2101.2" y2="2101.2" stroke="#555" stroke-width="1.6"/>
<line x1="1087.5" x2="1087.5" y1="1894.3" y2="2127.8" stroke="#333" stroke-width="1.7"/>
<circle cx="1094.0" cy="2101.2" r="2.8" fill="#4285f4"/>
<circle cx="1105.8" cy="2101.2" r="2.8" fill="#4285f4"/>
<circle cx="1117.6" cy="2101.2" r="2.8" fill="#4285f4"/>
<circle cx="1129.4" cy="2101.2" r="2.8" fill="#4285f4"/>
<circle cx="1141.2" cy="2101.2" r="2.8" fill="#4285f4"/>
<circle cx="1153.1" cy="2101.2" r="2.8" fill="#4285f4"/>
<circle cx="1164.9" cy="2101.2" r="2.8" fill="#4285f4"/>
<circle cx="1176.7" cy="2073.5" r="2.8" fill="#4285f4"/>
<circle cx="1188.5" cy="1963.4" r="2.8" fill="#4285f4"/>
<circle cx="1200.3" cy="2036.8" r="2.8" fill="#4285f4"/>
<circle cx="1212.1" cy="2052.3" r="2.8" fill="#4285f4"/>
<circle cx="1223.9" cy="2064.5" r="2.8" fill="#4285f4"/>
<circle cx="1235.8" cy="2072.9" r="2.8" fill="#4285f4"/>
<circle cx="1247.6" cy="2078.7" r="2.8" fill="#4285f4"/>
<circle cx="1259.4" cy="2083.8" r="2.8" fill="#4285f4"/>
<circle cx="1271.2" cy="2089.6" r="2.8" fill="#4285f4"/>
<circle cx="1283.0" cy="2092.2" r="2.8" fill="#4285f4"/>
<circle cx="1294.8" cy="2096.0" r="2.8" fill="#4285f4"/>
<circle cx="1306.6" cy="2096.7" r="2.8" fill="#4285f4"/>
<circle cx="1318.4" cy="2098.0" r="2.8" fill="#4285f4"/>
<circle cx="1330.2" cy="2099.3" r="2.8" fill="#4285f4"/>
<circle cx="1342.1" cy="2099.9" r="2.8" fill="#4285f4"/>
<circle cx="1353.9" cy="2100.9" r="2.8" fill="#4285f4"/>
<circle cx="1365.7" cy="2102.5" r="2.8" fill="#4285f4"/>
<circle cx="1377.5" cy="2103.1" r="2.8" fill="#4285f4"/>
<circle cx="1389.3" cy="2102.5" r="2.8" fill="#4285f4"/>
<circle cx="1401.1" cy="2101.8" r="2.8" fill="#4285f4"/>
<circle cx="1412.9" cy="2101.2" r="2.8" fill="#4285f4"/>
<circle cx="1424.8" cy="2101.2" r="2.8" fill="#4285f4"/>
<circle cx="1436.6" cy="2101.5" r="2.8" fill="#4285f4"/>
<circle cx="1448.4" cy="2101.8" r="2.8" fill="#4285f4"/>
<circle cx="1460.2" cy="2101.8" r="2.8" fill="#4285f4"/>
<circle cx="1472.0" cy="2101.8" r="2.8" fill="#4285f4"/>
<circle cx="1483.8" cy="2101.5" r="2.8" fill="#4285f4"/>
<circle cx="1495.6" cy="2101.2" r="2.8" fill="#4285f4"/>
<circle cx="1507.4" cy="2101.2" r="2.8" fill="#4285f4"/>
<circle cx="1519.2" cy="2101.2" r="2.8" fill="#4285f4"/>
<circle cx="1531.1" cy="2101.2" r="2.8" fill="#4285f4"/>
<circle cx="1542.9" cy="2101.2" r="2.8" fill="#4285f4"/>
<circle cx="1554.7" cy="2101.5" r="2.8" fill="#4285f4"/>
<circle cx="1566.5" cy="2101.5" r="2.8" fill="#4285f4"/>
<circle cx="1578.3" cy="2101.2" r="2.8" fill="#4285f4"/>
<circle cx="1590.1" cy="2101.5" r="2.8" fill="#4285f4"/>
<circle cx="1601.9" cy="2101.2" r="2.8" fill="#4285f4"/>
<circle cx="1613.8" cy="2101.2" r="2.8" fill="#4285f4"/>
<circle cx="1625.6" cy="2101.5" r="2.8" fill="#4285f4"/>
<circle cx="1637.4" cy="2101.5" r="2.8" fill="#4285f4"/>
<circle cx="1649.2" cy="2101.5" r="2.8" fill="#4285f4"/>
<circle cx="1661.0" cy="2101.8" r="2.8" fill="#4285f4"/>
<circle cx="1094.0" cy="2101.2" r="2.8" fill="#ea4335"/>
<circle cx="1105.8" cy="2101.2" r="2.8" fill="#ea4335"/>
<circle cx="1117.6" cy="2101.2" r="2.8" fill="#ea4335"/>
<circle cx="1129.4" cy="2101.2" r="2.8" fill="#ea4335"/>
<circle cx="1141.2" cy="2101.2" r="2.8" fill="#ea4335"/>
<circle cx="1153.1" cy="2101.2" r="2.8" fill="#ea4335"/>
<circle cx="1164.9" cy="2101.2" r="2.8" fill="#ea4335"/>
<circle cx="1176.7" cy="2060.0" r="2.8" fill="#ea4335"/>
<circle cx="1188.5" cy="1902.8" r="2.8" fill="#ea4335"/>
<circle cx="1200.3" cy="2020.7" r="2.8" fill="#ea4335"/>
<circle cx="1212.1" cy="2027.1" r="2.8" fill="#ea4335"/>
<circle cx="1223.9" cy="2034.9" r="2.8" fill="#ea4335"/>
<circle cx="1235.8" cy="2042.0" r="2.8" fill="#ea4335"/>
<circle cx="1247.6" cy="2046.5" r="2.8" fill="#ea4335"/>
<circle cx="1259.4" cy="2050.3" r="2.8" fill="#ea4335"/>
<circle cx="1271.2" cy="2055.5" r="2.8" fill="#ea4335"/>
<circle cx="1283.0" cy="2056.8" r="2.8" fill="#ea4335"/>
<circle cx="1294.8" cy="2063.8" r="2.8" fill="#ea4335"/>
<circle cx="1306.6" cy="2065.1" r="2.8" fill="#ea4335"/>
<circle cx="1318.4" cy="2065.8" r="2.8" fill="#ea4335"/>
<circle cx="1330.2" cy="2067.1" r="2.8" fill="#ea4335"/>
<circle cx="1342.1" cy="2068.4" r="2.8" fill="#ea4335"/>
<circle cx="1353.9" cy="2069.0" r="2.8" fill="#ea4335"/>
<circle cx="1365.7" cy="2070.3" r="2.8" fill="#ea4335"/>
<circle cx="1377.5" cy="2072.9" r="2.8" fill="#ea4335"/>
<circle cx="1389.3" cy="2073.5" r="2.8" fill="#ea4335"/>
<circle cx="1401.1" cy="2074.2" r="2.8" fill="#ea4335"/>
<circle cx="1412.9" cy="2074.8" r="2.8" fill="#ea4335"/>
<circle cx="1424.8" cy="2073.5" r="2.8" fill="#ea4335"/>
<circle cx="1436.6" cy="2073.5" r="2.8" fill="#ea4335"/>
<circle cx="1448.4" cy="2074.2" r="2.8" fill="#ea4335"/>
<circle cx="1460.2" cy="2074.2" r="2.8" fill="#ea4335"/>
<circle cx="1472.0" cy="2073.5" r="2.8" fill="#ea4335"/>
<circle cx="1483.8" cy="2073.5" r="2.8" fill="#ea4335"/>
<circle cx="1495.6" cy="2073.5" r="2.8" fill="#ea4335"/>
<circle cx="1507.4" cy="2074.2" r="2.8" fill="#ea4335"/>
<circle cx="1519.2" cy="2074.2" r="2.8" fill="#ea4335"/>
<circle cx="1531.1" cy="2074.2" r="2.8" fill="#ea4335"/>
<circle cx="1542.9" cy="2074.2" r="2.8" fill="#ea4335"/>
<circle cx="1554.7" cy="2073.5" r="2.8" fill="#ea4335"/>
<circle cx="1566.5" cy="2073.5" r="2.8" fill="#ea4335"/>
<circle cx="1578.3" cy="2073.5" r="2.8" fill="#ea4335"/>
<circle cx="1590.1" cy="2073.5" r="2.8" fill="#ea4335"/>
<circle cx="1601.9" cy="2074.2" r="2.8" fill="#ea4335"/>
<circle cx="1613.8" cy="2073.5" r="2.8" fill="#ea4335"/>
<circle cx="1625.6" cy="2073.5" r="2.8" fill="#ea4335"/>
<circle cx="1637.4" cy="2074.2" r="2.8" fill="#ea4335"/>
<circle cx="1649.2" cy="2073.5" r="2.8" fill="#ea4335"/>
<circle cx="1661.0" cy="2074.2" r="2.8" fill="#ea4335"/>
<text x="1340" y="1838" font-size="21.6" text-anchor="middle" fill="#000" textLength="438" lengthAdjust="spacingAndGlyphs">Thrust (gf) at the Start and End of a Step Test</text>
<circle cx="1191.4" cy="1865.2" r="8" fill="#4285f4"/>
<text x="1211" y="1869" font-size="13.6" fill="#111" textLength="71.5" lengthAdjust="spacingAndGlyphs">Flight Stand</text>
<circle cx="1312.6" cy="1865.2" r="8" fill="#ea4335"/>
<text x="1332" y="1869" font-size="13.6" fill="#111" textLength="163" lengthAdjust="spacingAndGlyphs">Thrust Stand with Bearings</text>
<text x="1080.7" y="2132.9" font-size="16.3" text-anchor="end" fill="#111">-40</text>
<text x="1080.7" y="2107.1" font-size="16.3" text-anchor="end" fill="#111">0</text>
<text x="1080.7" y="2081.3" font-size="16.3" text-anchor="end" fill="#111">40</text>
<text x="1080.7" y="2055.6" font-size="16.3" text-anchor="end" fill="#111">80</text>
<text x="1080.7" y="2029.8" font-size="16.3" text-anchor="end" fill="#111">120</text>
<text x="1080.7" y="2004.1" font-size="16.3" text-anchor="end" fill="#111">160</text>
<text x="1080.7" y="1978.3" font-size="16.3" text-anchor="end" fill="#111">200</text>
<text x="1080.7" y="1952.5" font-size="16.3" text-anchor="end" fill="#111">240</text>
<text x="1080.7" y="1926.8" font-size="16.3" text-anchor="end" fill="#111">280</text>
<text x="1080.7" y="1901.0" font-size="16.3" text-anchor="end" fill="#111">320</text>
<text transform="translate(1102.0 2142) rotate(-58)" font-size="16.3" text-anchor="end" fill="#111">6</text>
<text transform="translate(1125.6 2142) rotate(-58)" font-size="16.3" text-anchor="end" fill="#111">6.2</text>
<text transform="translate(1149.2 2142) rotate(-58)" font-size="16.3" text-anchor="end" fill="#111">6.4</text>
<text transform="translate(1172.9 2142) rotate(-58)" font-size="16.3" text-anchor="end" fill="#111">6.6</text>
<text transform="translate(1196.5 2142) rotate(-58)" font-size="16.3" text-anchor="end" fill="#111">6.8</text>
<text transform="translate(1220.1 2142) rotate(-58)" font-size="16.3" text-anchor="end" fill="#111">33.2</text>
<text transform="translate(1243.8 2142) rotate(-58)" font-size="16.3" text-anchor="end" fill="#111">33.4</text>
<text transform="translate(1267.4 2142) rotate(-58)" font-size="16.3" text-anchor="end" fill="#111">33.6</text>
<text transform="translate(1291.0 2142) rotate(-58)" font-size="16.3" text-anchor="end" fill="#111">33.8</text>
<text transform="translate(1314.6 2142) rotate(-58)" font-size="16.3" text-anchor="end" fill="#111">34</text>
<text transform="translate(1338.2 2142) rotate(-58)" font-size="16.3" text-anchor="end" fill="#111">34.2</text>
<text transform="translate(1361.9 2142) rotate(-58)" font-size="16.3" text-anchor="end" fill="#111">34.4</text>
<text transform="translate(1385.5 2142) rotate(-58)" font-size="16.3" text-anchor="end" fill="#111">34.6</text>
<text transform="translate(1409.1 2142) rotate(-58)" font-size="16.3" text-anchor="end" fill="#111">34.8</text>
<text transform="translate(1432.8 2142) rotate(-58)" font-size="16.3" text-anchor="end" fill="#111">35</text>
<text transform="translate(1456.4 2142) rotate(-58)" font-size="16.3" text-anchor="end" fill="#111">35.2</text>
<text transform="translate(1480.0 2142) rotate(-58)" font-size="16.3" text-anchor="end" fill="#111">35.4</text>
<text transform="translate(1503.6 2142) rotate(-58)" font-size="16.3" text-anchor="end" fill="#111">35.6</text>
<text transform="translate(1527.2 2142) rotate(-58)" font-size="16.3" text-anchor="end" fill="#111">35.8</text>
<text transform="translate(1550.9 2142) rotate(-58)" font-size="16.3" text-anchor="end" fill="#111">36</text>
<text transform="translate(1574.5 2142) rotate(-58)" font-size="16.3" text-anchor="end" fill="#111">36.2</text>
<text transform="translate(1598.1 2142) rotate(-58)" font-size="16.3" text-anchor="end" fill="#111">36.4</text>
<text transform="translate(1621.8 2142) rotate(-58)" font-size="16.3" text-anchor="end" fill="#111">36.6</text>
<text transform="translate(1645.4 2142) rotate(-58)" font-size="16.3" text-anchor="end" fill="#111">36.8</text>
<text transform="translate(1669.0 2142) rotate(-58)" font-size="16.3" text-anchor="end" fill="#111">37</text>
<text x="1377.3" y="2203.7" font-size="16.3" text-anchor="middle" fill="#111">Time (s)</text>
<text transform="translate(1026 2026.5) rotate(-90)" font-size="16.3" text-anchor="middle" fill="#111">Thrust (gf)</text>
</svg></figure>
</section>
<div class="rule" style="left:86px;top:1149.8px;width:1602.8px"></div>
<div class="rule" style="left:93px;top:1768.6px;width:1596px"></div>
</body></html>
